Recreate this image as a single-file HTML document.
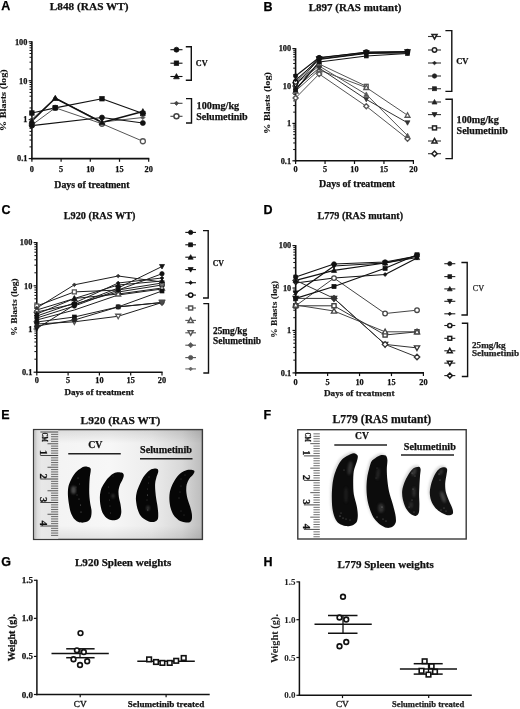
<!DOCTYPE html><html><head><meta charset="utf-8"><style>html,body{margin:0;padding:0;background:#fff;}svg{display:block;will-change:transform;}</style></head><body><svg width="520" height="709" viewBox="0 0 520 709"><rect width="520" height="709" fill="#fff"/><line x1="29.50" y1="146.88" x2="31.90" y2="146.88" stroke="#111" stroke-width="1.0" stroke-linecap="butt"/>
<line x1="29.50" y1="140.02" x2="31.90" y2="140.02" stroke="#111" stroke-width="1.0" stroke-linecap="butt"/>
<line x1="29.50" y1="135.16" x2="31.90" y2="135.16" stroke="#111" stroke-width="1.0" stroke-linecap="butt"/>
<line x1="29.50" y1="131.39" x2="31.90" y2="131.39" stroke="#111" stroke-width="1.0" stroke-linecap="butt"/>
<line x1="29.50" y1="128.30" x2="31.90" y2="128.30" stroke="#111" stroke-width="1.0" stroke-linecap="butt"/>
<line x1="29.50" y1="125.70" x2="31.90" y2="125.70" stroke="#111" stroke-width="1.0" stroke-linecap="butt"/>
<line x1="29.50" y1="123.44" x2="31.90" y2="123.44" stroke="#111" stroke-width="1.0" stroke-linecap="butt"/>
<line x1="29.50" y1="121.45" x2="31.90" y2="121.45" stroke="#111" stroke-width="1.0" stroke-linecap="butt"/>
<line x1="29.50" y1="107.95" x2="31.90" y2="107.95" stroke="#111" stroke-width="1.0" stroke-linecap="butt"/>
<line x1="29.50" y1="101.09" x2="31.90" y2="101.09" stroke="#111" stroke-width="1.0" stroke-linecap="butt"/>
<line x1="29.50" y1="96.23" x2="31.90" y2="96.23" stroke="#111" stroke-width="1.0" stroke-linecap="butt"/>
<line x1="29.50" y1="92.45" x2="31.90" y2="92.45" stroke="#111" stroke-width="1.0" stroke-linecap="butt"/>
<line x1="29.50" y1="89.37" x2="31.90" y2="89.37" stroke="#111" stroke-width="1.0" stroke-linecap="butt"/>
<line x1="29.50" y1="86.76" x2="31.90" y2="86.76" stroke="#111" stroke-width="1.0" stroke-linecap="butt"/>
<line x1="29.50" y1="84.51" x2="31.90" y2="84.51" stroke="#111" stroke-width="1.0" stroke-linecap="butt"/>
<line x1="29.50" y1="82.51" x2="31.90" y2="82.51" stroke="#111" stroke-width="1.0" stroke-linecap="butt"/>
<line x1="29.50" y1="69.01" x2="31.90" y2="69.01" stroke="#111" stroke-width="1.0" stroke-linecap="butt"/>
<line x1="29.50" y1="62.16" x2="31.90" y2="62.16" stroke="#111" stroke-width="1.0" stroke-linecap="butt"/>
<line x1="29.50" y1="57.29" x2="31.90" y2="57.29" stroke="#111" stroke-width="1.0" stroke-linecap="butt"/>
<line x1="29.50" y1="53.52" x2="31.90" y2="53.52" stroke="#111" stroke-width="1.0" stroke-linecap="butt"/>
<line x1="29.50" y1="50.44" x2="31.90" y2="50.44" stroke="#111" stroke-width="1.0" stroke-linecap="butt"/>
<line x1="29.50" y1="47.83" x2="31.90" y2="47.83" stroke="#111" stroke-width="1.0" stroke-linecap="butt"/>
<line x1="29.50" y1="45.57" x2="31.90" y2="45.57" stroke="#111" stroke-width="1.0" stroke-linecap="butt"/>
<line x1="29.50" y1="43.58" x2="31.90" y2="43.58" stroke="#111" stroke-width="1.0" stroke-linecap="butt"/>
<line x1="28.70" y1="41.80" x2="31.90" y2="41.80" stroke="#111" stroke-width="1.2" stroke-linecap="butt"/>
<line x1="28.70" y1="80.73" x2="31.90" y2="80.73" stroke="#111" stroke-width="1.2" stroke-linecap="butt"/>
<line x1="28.70" y1="119.67" x2="31.90" y2="119.67" stroke="#111" stroke-width="1.2" stroke-linecap="butt"/>
<line x1="28.70" y1="158.60" x2="31.90" y2="158.60" stroke="#111" stroke-width="1.2" stroke-linecap="butt"/>
<line x1="31.90" y1="41.30" x2="31.90" y2="159.30" stroke="#111" stroke-width="1.6" stroke-linecap="butt"/>
<line x1="31.10" y1="158.60" x2="149.30" y2="158.60" stroke="#111" stroke-width="1.6" stroke-linecap="butt"/>
<line x1="31.90" y1="158.60" x2="31.90" y2="161.80" stroke="#111" stroke-width="1.2" stroke-linecap="butt"/>
<line x1="61.10" y1="158.60" x2="61.10" y2="161.80" stroke="#111" stroke-width="1.2" stroke-linecap="butt"/>
<line x1="90.30" y1="158.60" x2="90.30" y2="161.80" stroke="#111" stroke-width="1.2" stroke-linecap="butt"/>
<line x1="119.50" y1="158.60" x2="119.50" y2="161.80" stroke="#111" stroke-width="1.2" stroke-linecap="butt"/>
<line x1="148.70" y1="158.60" x2="148.70" y2="161.80" stroke="#111" stroke-width="1.2" stroke-linecap="butt"/>
<text x="27.40" y="44.62" font-family="&quot;Liberation Serif&quot;, serif" font-size="8.30" font-weight="bold" stroke="#111" stroke-width="0.25" text-anchor="end" fill="#111">100</text>
<text x="27.40" y="83.56" font-family="&quot;Liberation Serif&quot;, serif" font-size="8.30" font-weight="bold" stroke="#111" stroke-width="0.25" text-anchor="end" fill="#111">10</text>
<text x="27.40" y="122.49" font-family="&quot;Liberation Serif&quot;, serif" font-size="8.30" font-weight="bold" stroke="#111" stroke-width="0.25" text-anchor="end" fill="#111">1</text>
<text x="27.40" y="161.42" font-family="&quot;Liberation Serif&quot;, serif" font-size="8.30" font-weight="bold" stroke="#111" stroke-width="0.25" text-anchor="end" fill="#111">0.1</text>
<text x="31.90" y="171.60" font-family="&quot;Liberation Serif&quot;, serif" font-size="8.30" font-weight="bold" stroke="#111" stroke-width="0.25" text-anchor="middle" fill="#111">0</text>
<text x="61.10" y="171.60" font-family="&quot;Liberation Serif&quot;, serif" font-size="8.30" font-weight="bold" stroke="#111" stroke-width="0.25" text-anchor="middle" fill="#111">5</text>
<text x="90.30" y="171.60" font-family="&quot;Liberation Serif&quot;, serif" font-size="8.30" font-weight="bold" stroke="#111" stroke-width="0.25" text-anchor="middle" fill="#111">10</text>
<text x="119.50" y="171.60" font-family="&quot;Liberation Serif&quot;, serif" font-size="8.30" font-weight="bold" stroke="#111" stroke-width="0.25" text-anchor="middle" fill="#111">15</text>
<text x="148.70" y="171.60" font-family="&quot;Liberation Serif&quot;, serif" font-size="8.30" font-weight="bold" stroke="#111" stroke-width="0.25" text-anchor="middle" fill="#111">20</text>
<text x="54.30" y="188.40" font-family="&quot;Liberation Serif&quot;, serif" font-size="9.80" font-weight="bold" stroke="#111" stroke-width="0.25" text-anchor="start" fill="#111" textLength="75.20" lengthAdjust="spacingAndGlyphs">Days of treatment</text>
<text x="6.30" y="100.20" font-family="&quot;Liberation Serif&quot;, serif" font-size="9.00" font-weight="bold" stroke="#111" stroke-width="0.1" text-anchor="middle" fill="#111" textLength="62.00" lengthAdjust="spacingAndGlyphs" transform="rotate(-90 6.30 100.20)">% Blasts (log)</text>
<text x="49.80" y="10.00" font-family="&quot;Liberation Serif&quot;, serif" font-size="11.30" font-weight="bold" stroke="#111" stroke-width="0.25" text-anchor="start" fill="#111" textLength="78.80" lengthAdjust="spacingAndGlyphs">L848 (RAS WT)</text>
<polyline points="31.90,119.30 55.26,98.20 101.98,122.00 142.86,117.50" fill="none" stroke="#555" stroke-width="1.0" stroke-linejoin="round"/>
<polyline points="31.90,125.00 55.26,107.80 101.98,123.75 142.86,141.25" fill="none" stroke="#555" stroke-width="1.0" stroke-linejoin="round"/>
<polyline points="31.90,125.60 101.98,117.50 142.86,123.00" fill="none" stroke="#111" stroke-width="1.1" stroke-linejoin="round"/>
<polyline points="31.90,113.00 55.26,107.80 101.98,98.75 142.86,113.50" fill="none" stroke="#111" stroke-width="1.2" stroke-linejoin="round"/>
<polyline points="31.90,121.00 55.26,98.20 101.98,122.50 142.86,111.50" fill="none" stroke="#111" stroke-width="1.6" stroke-linejoin="round"/>
<polygon points="31.90,117.17 34.02,119.30 31.90,121.42 29.77,119.30" fill="#555" stroke="#555" stroke-width="0.7"/>
<polygon points="55.26,96.08 57.38,98.20 55.26,100.33 53.13,98.20" fill="#555" stroke="#555" stroke-width="0.7"/>
<polygon points="101.98,119.88 104.10,122.00 101.98,124.12 99.85,122.00" fill="#555" stroke="#555" stroke-width="0.7"/>
<polygon points="142.86,115.38 144.98,117.50 142.86,119.62 140.73,117.50" fill="#555" stroke="#555" stroke-width="0.7"/>
<circle cx="31.90" cy="125.00" r="2.50" fill="#fff" stroke="#555" stroke-width="1.3"/>
<circle cx="55.26" cy="107.80" r="2.50" fill="#fff" stroke="#555" stroke-width="1.3"/>
<circle cx="101.98" cy="123.75" r="2.50" fill="#fff" stroke="#555" stroke-width="1.3"/>
<circle cx="142.86" cy="141.25" r="2.50" fill="#fff" stroke="#555" stroke-width="1.3"/>
<circle cx="31.90" cy="125.60" r="2.50" fill="#111" stroke="#111" stroke-width="0.7"/>
<circle cx="101.98" cy="117.50" r="2.50" fill="#111" stroke="#111" stroke-width="0.7"/>
<circle cx="142.86" cy="123.00" r="2.50" fill="#111" stroke="#111" stroke-width="0.7"/>
<rect x="29.65" y="110.75" width="4.50" height="4.50" fill="#111" stroke="#111" stroke-width="0.7"/>
<rect x="53.01" y="105.55" width="4.50" height="4.50" fill="#111" stroke="#111" stroke-width="0.7"/>
<rect x="99.73" y="96.50" width="4.50" height="4.50" fill="#111" stroke="#111" stroke-width="0.7"/>
<rect x="140.61" y="111.25" width="4.50" height="4.50" fill="#111" stroke="#111" stroke-width="0.7"/>
<polygon points="31.90,118.12 34.77,123.30 29.02,123.30" fill="#111" stroke="#111" stroke-width="0.7"/>
<polygon points="55.26,95.33 58.13,100.50 52.38,100.50" fill="#111" stroke="#111" stroke-width="0.7"/>
<polygon points="101.98,119.62 104.85,124.80 99.10,124.80" fill="#111" stroke="#111" stroke-width="0.7"/>
<polygon points="142.86,108.62 145.73,113.80 139.98,113.80" fill="#111" stroke="#111" stroke-width="0.7"/>
<line x1="170.40" y1="49.70" x2="182.50" y2="49.70" stroke="#111" stroke-width="1.1" stroke-linecap="butt"/>
<circle cx="176.45" cy="49.70" r="2.50" fill="#111" stroke="#111" stroke-width="0.7"/>
<line x1="170.40" y1="63.20" x2="182.50" y2="63.20" stroke="#111" stroke-width="1.1" stroke-linecap="butt"/>
<rect x="174.20" y="60.95" width="4.50" height="4.50" fill="#111" stroke="#111" stroke-width="0.7"/>
<line x1="170.40" y1="76.50" x2="182.50" y2="76.50" stroke="#111" stroke-width="1.1" stroke-linecap="butt"/>
<polygon points="176.45,73.62 179.32,78.80 173.57,78.80" fill="#111" stroke="#111" stroke-width="0.7"/>
<line x1="170.40" y1="103.30" x2="182.50" y2="103.30" stroke="#444" stroke-width="1.1" stroke-linecap="butt"/>
<polygon points="176.45,101.17 178.57,103.30 176.45,105.42 174.32,103.30" fill="#444" stroke="#444" stroke-width="0.7"/>
<line x1="170.40" y1="116.30" x2="182.50" y2="116.30" stroke="#444" stroke-width="1.1" stroke-linecap="butt"/>
<circle cx="176.45" cy="116.30" r="2.50" fill="#fff" stroke="#444" stroke-width="1.5"/>
<polyline points="185.80,46.80 191.30,46.80 191.30,80.30 185.80,80.30" fill="none" stroke="#111" stroke-width="1.4"/>
<polyline points="186.00,98.60 191.50,98.60 191.50,123.00 186.00,123.00" fill="none" stroke="#111" stroke-width="1.4"/>
<text x="195.80" y="65.80" font-family="&quot;Liberation Serif&quot;, serif" font-size="8.80" font-weight="bold" stroke="#111" stroke-width="0.25" text-anchor="start" fill="#111" textLength="11.80" lengthAdjust="spacingAndGlyphs">CV</text>
<text x="196.60" y="108.80" font-family="&quot;Liberation Serif&quot;, serif" font-size="10.20" font-weight="bold" stroke="#111" stroke-width="0.25" text-anchor="start" fill="#111" textLength="42.60" lengthAdjust="spacingAndGlyphs">100mg/kg</text>
<text x="196.20" y="119.60" font-family="&quot;Liberation Serif&quot;, serif" font-size="10.10" font-weight="bold" stroke="#111" stroke-width="0.25" text-anchor="start" fill="#111" textLength="51.50" lengthAdjust="spacingAndGlyphs">Selumetinib</text>
<text x="1.20" y="10.20" font-family="&quot;Liberation Sans&quot;, sans-serif" font-size="12.50" font-weight="bold" stroke="#000" stroke-width="0.25" text-anchor="start" fill="#000">A</text>
<line x1="293.20" y1="149.54" x2="295.60" y2="149.54" stroke="#111" stroke-width="1.0" stroke-linecap="butt"/>
<line x1="293.20" y1="142.96" x2="295.60" y2="142.96" stroke="#111" stroke-width="1.0" stroke-linecap="butt"/>
<line x1="293.20" y1="138.28" x2="295.60" y2="138.28" stroke="#111" stroke-width="1.0" stroke-linecap="butt"/>
<line x1="293.20" y1="134.66" x2="295.60" y2="134.66" stroke="#111" stroke-width="1.0" stroke-linecap="butt"/>
<line x1="293.20" y1="131.70" x2="295.60" y2="131.70" stroke="#111" stroke-width="1.0" stroke-linecap="butt"/>
<line x1="293.20" y1="129.19" x2="295.60" y2="129.19" stroke="#111" stroke-width="1.0" stroke-linecap="butt"/>
<line x1="293.20" y1="127.02" x2="295.60" y2="127.02" stroke="#111" stroke-width="1.0" stroke-linecap="butt"/>
<line x1="293.20" y1="125.11" x2="295.60" y2="125.11" stroke="#111" stroke-width="1.0" stroke-linecap="butt"/>
<line x1="293.20" y1="112.14" x2="295.60" y2="112.14" stroke="#111" stroke-width="1.0" stroke-linecap="butt"/>
<line x1="293.20" y1="105.56" x2="295.60" y2="105.56" stroke="#111" stroke-width="1.0" stroke-linecap="butt"/>
<line x1="293.20" y1="100.88" x2="295.60" y2="100.88" stroke="#111" stroke-width="1.0" stroke-linecap="butt"/>
<line x1="293.20" y1="97.26" x2="295.60" y2="97.26" stroke="#111" stroke-width="1.0" stroke-linecap="butt"/>
<line x1="293.20" y1="94.30" x2="295.60" y2="94.30" stroke="#111" stroke-width="1.0" stroke-linecap="butt"/>
<line x1="293.20" y1="91.79" x2="295.60" y2="91.79" stroke="#111" stroke-width="1.0" stroke-linecap="butt"/>
<line x1="293.20" y1="89.62" x2="295.60" y2="89.62" stroke="#111" stroke-width="1.0" stroke-linecap="butt"/>
<line x1="293.20" y1="87.71" x2="295.60" y2="87.71" stroke="#111" stroke-width="1.0" stroke-linecap="butt"/>
<line x1="293.20" y1="74.74" x2="295.60" y2="74.74" stroke="#111" stroke-width="1.0" stroke-linecap="butt"/>
<line x1="293.20" y1="68.16" x2="295.60" y2="68.16" stroke="#111" stroke-width="1.0" stroke-linecap="butt"/>
<line x1="293.20" y1="63.48" x2="295.60" y2="63.48" stroke="#111" stroke-width="1.0" stroke-linecap="butt"/>
<line x1="293.20" y1="59.86" x2="295.60" y2="59.86" stroke="#111" stroke-width="1.0" stroke-linecap="butt"/>
<line x1="293.20" y1="56.90" x2="295.60" y2="56.90" stroke="#111" stroke-width="1.0" stroke-linecap="butt"/>
<line x1="293.20" y1="54.39" x2="295.60" y2="54.39" stroke="#111" stroke-width="1.0" stroke-linecap="butt"/>
<line x1="293.20" y1="52.22" x2="295.60" y2="52.22" stroke="#111" stroke-width="1.0" stroke-linecap="butt"/>
<line x1="293.20" y1="50.31" x2="295.60" y2="50.31" stroke="#111" stroke-width="1.0" stroke-linecap="butt"/>
<line x1="292.40" y1="48.60" x2="295.60" y2="48.60" stroke="#111" stroke-width="1.2" stroke-linecap="butt"/>
<line x1="292.40" y1="86.00" x2="295.60" y2="86.00" stroke="#111" stroke-width="1.2" stroke-linecap="butt"/>
<line x1="292.40" y1="123.40" x2="295.60" y2="123.40" stroke="#111" stroke-width="1.2" stroke-linecap="butt"/>
<line x1="292.40" y1="160.80" x2="295.60" y2="160.80" stroke="#111" stroke-width="1.2" stroke-linecap="butt"/>
<line x1="295.60" y1="48.10" x2="295.60" y2="161.50" stroke="#111" stroke-width="1.6" stroke-linecap="butt"/>
<line x1="294.80" y1="160.80" x2="414.00" y2="160.80" stroke="#111" stroke-width="1.6" stroke-linecap="butt"/>
<line x1="295.60" y1="160.80" x2="295.60" y2="164.00" stroke="#111" stroke-width="1.2" stroke-linecap="butt"/>
<line x1="325.05" y1="160.80" x2="325.05" y2="164.00" stroke="#111" stroke-width="1.2" stroke-linecap="butt"/>
<line x1="354.50" y1="160.80" x2="354.50" y2="164.00" stroke="#111" stroke-width="1.2" stroke-linecap="butt"/>
<line x1="383.95" y1="160.80" x2="383.95" y2="164.00" stroke="#111" stroke-width="1.2" stroke-linecap="butt"/>
<line x1="413.40" y1="160.80" x2="413.40" y2="164.00" stroke="#111" stroke-width="1.2" stroke-linecap="butt"/>
<text x="291.10" y="51.42" font-family="&quot;Liberation Serif&quot;, serif" font-size="8.30" font-weight="bold" stroke="#111" stroke-width="0.25" text-anchor="end" fill="#111">100</text>
<text x="291.10" y="88.82" font-family="&quot;Liberation Serif&quot;, serif" font-size="8.30" font-weight="bold" stroke="#111" stroke-width="0.25" text-anchor="end" fill="#111">10</text>
<text x="291.10" y="126.22" font-family="&quot;Liberation Serif&quot;, serif" font-size="8.30" font-weight="bold" stroke="#111" stroke-width="0.25" text-anchor="end" fill="#111">1</text>
<text x="291.10" y="163.62" font-family="&quot;Liberation Serif&quot;, serif" font-size="8.30" font-weight="bold" stroke="#111" stroke-width="0.25" text-anchor="end" fill="#111">0.1</text>
<text x="295.60" y="172.30" font-family="&quot;Liberation Serif&quot;, serif" font-size="8.30" font-weight="bold" stroke="#111" stroke-width="0.25" text-anchor="middle" fill="#111">0</text>
<text x="325.05" y="172.30" font-family="&quot;Liberation Serif&quot;, serif" font-size="8.30" font-weight="bold" stroke="#111" stroke-width="0.25" text-anchor="middle" fill="#111">5</text>
<text x="354.50" y="172.30" font-family="&quot;Liberation Serif&quot;, serif" font-size="8.30" font-weight="bold" stroke="#111" stroke-width="0.25" text-anchor="middle" fill="#111">10</text>
<text x="383.95" y="172.30" font-family="&quot;Liberation Serif&quot;, serif" font-size="8.30" font-weight="bold" stroke="#111" stroke-width="0.25" text-anchor="middle" fill="#111">15</text>
<text x="413.40" y="172.30" font-family="&quot;Liberation Serif&quot;, serif" font-size="8.30" font-weight="bold" stroke="#111" stroke-width="0.25" text-anchor="middle" fill="#111">20</text>
<text x="319.00" y="186.70" font-family="&quot;Liberation Serif&quot;, serif" font-size="9.80" font-weight="bold" stroke="#111" stroke-width="0.25" text-anchor="start" fill="#111" textLength="76.20" lengthAdjust="spacingAndGlyphs">Days of treatment</text>
<text x="269.50" y="103.00" font-family="&quot;Liberation Serif&quot;, serif" font-size="9.00" font-weight="bold" stroke="#111" stroke-width="0.1" text-anchor="middle" fill="#111" textLength="62.00" lengthAdjust="spacingAndGlyphs" transform="rotate(-90 269.50 103.00)">% Blasts (log)</text>
<text x="308.80" y="11.00" font-family="&quot;Liberation Serif&quot;, serif" font-size="11.00" font-weight="bold" stroke="#111" stroke-width="0.25" text-anchor="start" fill="#111" textLength="92.70" lengthAdjust="spacingAndGlyphs">L897 (RAS mutant)</text>
<polyline points="295.60,83.00 319.16,64.00 366.28,86.25" fill="none" stroke="#555" stroke-width="1.0" stroke-linejoin="round"/>
<polyline points="295.60,91.00 319.16,70.00 366.28,87.50 407.51,115.25" fill="none" stroke="#555" stroke-width="1.0" stroke-linejoin="round"/>
<polyline points="295.60,98.00 319.16,74.00 366.28,106.25 407.51,138.75" fill="none" stroke="#555" stroke-width="1.0" stroke-linejoin="round"/>
<polyline points="295.60,84.00 319.16,66.00 366.28,94.40 407.51,135.60" fill="none" stroke="#555" stroke-width="1.0" stroke-linejoin="round"/>
<polyline points="295.60,88.00 319.16,68.00 366.28,99.40 407.51,122.75" fill="none" stroke="#333" stroke-width="1.0" stroke-linejoin="round"/>
<polyline points="295.60,85.00 319.16,59.00 366.28,53.00 407.51,52.00" fill="none" stroke="#111" stroke-width="1.0" stroke-linejoin="round"/>
<polyline points="295.60,82.00 319.16,58.00 366.28,52.00 407.51,51.50" fill="none" stroke="#111" stroke-width="1.0" stroke-linejoin="round"/>
<polyline points="295.60,80.00 319.16,59.50 366.28,53.50 407.51,53.00" fill="none" stroke="#111" stroke-width="1.0" stroke-linejoin="round"/>
<polyline points="295.60,90.00 319.16,62.00 366.28,56.00 407.51,53.50" fill="none" stroke="#111" stroke-width="1.2" stroke-linejoin="round"/>
<polyline points="295.60,76.00 319.16,57.50 366.28,52.50 407.51,52.00" fill="none" stroke="#111" stroke-width="1.2" stroke-linejoin="round"/>
<rect x="293.67" y="81.06" width="3.87" height="3.87" fill="#fff" stroke="#555" stroke-width="1.3"/>
<rect x="317.23" y="62.06" width="3.87" height="3.87" fill="#fff" stroke="#555" stroke-width="1.3"/>
<rect x="364.35" y="84.31" width="3.87" height="3.87" fill="#fff" stroke="#555" stroke-width="1.3"/>
<polygon points="295.60,88.53 298.07,92.98 293.13,92.98" fill="#fff" stroke="#555" stroke-width="1.3"/>
<polygon points="319.16,67.53 321.63,71.98 316.69,71.98" fill="#fff" stroke="#555" stroke-width="1.3"/>
<polygon points="366.28,85.03 368.75,89.48 363.81,89.48" fill="#fff" stroke="#555" stroke-width="1.3"/>
<polygon points="407.51,112.78 409.98,117.23 405.04,117.23" fill="#fff" stroke="#555" stroke-width="1.3"/>
<polygon points="295.60,95.42 298.18,98.00 295.60,100.58 293.02,98.00" fill="#fff" stroke="#555" stroke-width="1.3"/>
<polygon points="319.16,71.42 321.74,74.00 319.16,76.58 316.58,74.00" fill="#fff" stroke="#555" stroke-width="1.3"/>
<polygon points="366.28,103.67 368.86,106.25 366.28,108.83 363.70,106.25" fill="#fff" stroke="#555" stroke-width="1.3"/>
<polygon points="407.51,136.17 410.09,138.75 407.51,141.33 404.93,138.75" fill="#fff" stroke="#555" stroke-width="1.3"/>
<polygon points="295.60,81.53 298.07,85.98 293.13,85.98" fill="#555" stroke="#555" stroke-width="0.7"/>
<polygon points="319.16,63.53 321.63,67.98 316.69,67.98" fill="#555" stroke="#555" stroke-width="0.7"/>
<polygon points="366.28,91.93 368.75,96.38 363.81,96.38" fill="#555" stroke="#555" stroke-width="0.7"/>
<polygon points="407.51,133.13 409.98,137.58 405.04,137.58" fill="#555" stroke="#555" stroke-width="0.7"/>
<polygon points="295.60,90.47 298.07,86.02 293.13,86.02" fill="#333" stroke="#333" stroke-width="0.7"/>
<polygon points="319.16,70.47 321.63,66.02 316.69,66.02" fill="#333" stroke="#333" stroke-width="0.7"/>
<polygon points="366.28,101.87 368.75,97.42 363.81,97.42" fill="#333" stroke="#333" stroke-width="0.7"/>
<polygon points="407.51,125.22 409.98,120.77 405.04,120.77" fill="#333" stroke="#333" stroke-width="0.7"/>
<polygon points="295.60,87.47 298.07,83.02 293.13,83.02" fill="#fff" stroke="#111" stroke-width="1.3"/>
<polygon points="319.16,61.47 321.63,57.02 316.69,57.02" fill="#fff" stroke="#111" stroke-width="1.3"/>
<polygon points="366.28,55.47 368.75,51.02 363.81,51.02" fill="#fff" stroke="#111" stroke-width="1.3"/>
<polygon points="407.51,54.47 409.98,50.02 405.04,50.02" fill="#fff" stroke="#111" stroke-width="1.3"/>
<circle cx="295.60" cy="82.00" r="2.15" fill="#fff" stroke="#111" stroke-width="1.3"/>
<circle cx="319.16" cy="58.00" r="2.15" fill="#fff" stroke="#111" stroke-width="1.3"/>
<circle cx="366.28" cy="52.00" r="2.15" fill="#fff" stroke="#111" stroke-width="1.3"/>
<circle cx="407.51" cy="51.50" r="2.15" fill="#fff" stroke="#111" stroke-width="1.3"/>
<polygon points="295.60,78.17 297.43,80.00 295.60,81.83 293.77,80.00" fill="#111" stroke="#111" stroke-width="0.7"/>
<polygon points="319.16,57.67 320.99,59.50 319.16,61.33 317.33,59.50" fill="#111" stroke="#111" stroke-width="0.7"/>
<polygon points="366.28,51.67 368.11,53.50 366.28,55.33 364.45,53.50" fill="#111" stroke="#111" stroke-width="0.7"/>
<polygon points="407.51,51.17 409.34,53.00 407.51,54.83 405.68,53.00" fill="#111" stroke="#111" stroke-width="0.7"/>
<rect x="293.67" y="88.06" width="3.87" height="3.87" fill="#111" stroke="#111" stroke-width="0.7"/>
<rect x="317.23" y="60.06" width="3.87" height="3.87" fill="#111" stroke="#111" stroke-width="0.7"/>
<rect x="364.35" y="54.06" width="3.87" height="3.87" fill="#111" stroke="#111" stroke-width="0.7"/>
<rect x="405.57" y="51.56" width="3.87" height="3.87" fill="#111" stroke="#111" stroke-width="0.7"/>
<circle cx="295.60" cy="76.00" r="2.15" fill="#111" stroke="#111" stroke-width="0.7"/>
<circle cx="319.16" cy="57.50" r="2.15" fill="#111" stroke="#111" stroke-width="0.7"/>
<circle cx="366.28" cy="52.50" r="2.15" fill="#111" stroke="#111" stroke-width="0.7"/>
<circle cx="407.51" cy="52.00" r="2.15" fill="#111" stroke="#111" stroke-width="0.7"/>
<line x1="428.00" y1="36.50" x2="441.00" y2="36.50" stroke="#333" stroke-width="1.1" stroke-linecap="butt"/>
<polygon points="434.50,39.03 437.03,34.48 431.97,34.48" fill="#fff" stroke="#222" stroke-width="1.5"/>
<line x1="428.00" y1="50.00" x2="441.00" y2="50.00" stroke="#333" stroke-width="1.1" stroke-linecap="butt"/>
<circle cx="434.50" cy="50.00" r="2.20" fill="#fff" stroke="#222" stroke-width="1.5"/>
<line x1="428.00" y1="63.00" x2="441.00" y2="63.00" stroke="#333" stroke-width="1.1" stroke-linecap="butt"/>
<polygon points="434.50,61.13 436.37,63.00 434.50,64.87 432.63,63.00" fill="#222" stroke="#222" stroke-width="0.7"/>
<line x1="428.00" y1="76.00" x2="441.00" y2="76.00" stroke="#333" stroke-width="1.1" stroke-linecap="butt"/>
<circle cx="434.50" cy="76.00" r="2.20" fill="#222" stroke="#222" stroke-width="0.7"/>
<line x1="428.00" y1="88.75" x2="441.00" y2="88.75" stroke="#333" stroke-width="1.1" stroke-linecap="butt"/>
<rect x="432.52" y="86.77" width="3.96" height="3.96" fill="#222" stroke="#222" stroke-width="0.7"/>
<line x1="428.00" y1="102.00" x2="441.00" y2="102.00" stroke="#333" stroke-width="1.1" stroke-linecap="butt"/>
<polygon points="434.50,99.47 437.03,104.02 431.97,104.02" fill="#222" stroke="#222" stroke-width="0.7"/>
<line x1="428.00" y1="114.60" x2="441.00" y2="114.60" stroke="#333" stroke-width="1.1" stroke-linecap="butt"/>
<polygon points="434.50,117.13 437.03,112.58 431.97,112.58" fill="#222" stroke="#222" stroke-width="0.7"/>
<line x1="428.00" y1="127.90" x2="441.00" y2="127.90" stroke="#333" stroke-width="1.1" stroke-linecap="butt"/>
<rect x="432.52" y="125.92" width="3.96" height="3.96" fill="#fff" stroke="#222" stroke-width="1.5"/>
<line x1="428.00" y1="141.00" x2="441.00" y2="141.00" stroke="#333" stroke-width="1.1" stroke-linecap="butt"/>
<polygon points="434.50,138.47 437.03,143.02 431.97,143.02" fill="#fff" stroke="#222" stroke-width="1.5"/>
<line x1="428.00" y1="153.70" x2="441.00" y2="153.70" stroke="#333" stroke-width="1.1" stroke-linecap="butt"/>
<polygon points="434.50,151.06 437.14,153.70 434.50,156.34 431.86,153.70" fill="#fff" stroke="#222" stroke-width="1.5"/>
<polyline points="445.40,30.60 451.80,30.60 451.80,91.40 445.40,91.40" fill="none" stroke="#111" stroke-width="1.4"/>
<polyline points="445.40,99.30 452.20,99.30 452.20,158.60 445.40,158.60" fill="none" stroke="#111" stroke-width="1.4"/>
<text x="456.20" y="64.20" font-family="&quot;Liberation Serif&quot;, serif" font-size="8.80" font-weight="bold" stroke="#111" stroke-width="0.25" text-anchor="start" fill="#111" textLength="12.30" lengthAdjust="spacingAndGlyphs">CV</text>
<text x="456.60" y="123.10" font-family="&quot;Liberation Serif&quot;, serif" font-size="10.10" font-weight="bold" stroke="#111" stroke-width="0.25" text-anchor="start" fill="#111" textLength="42.20" lengthAdjust="spacingAndGlyphs">100mg/kg</text>
<text x="456.60" y="133.80" font-family="&quot;Liberation Serif&quot;, serif" font-size="10.00" font-weight="bold" stroke="#111" stroke-width="0.25" text-anchor="start" fill="#111" textLength="51.10" lengthAdjust="spacingAndGlyphs">Selumetinib</text>
<text x="263.50" y="10.50" font-family="&quot;Liberation Sans&quot;, sans-serif" font-size="12.50" font-weight="bold" stroke="#000" stroke-width="0.25" text-anchor="start" fill="#000">B</text>
<line x1="34.40" y1="359.20" x2="36.80" y2="359.20" stroke="#111" stroke-width="1.0" stroke-linecap="butt"/>
<line x1="34.40" y1="351.59" x2="36.80" y2="351.59" stroke="#111" stroke-width="1.0" stroke-linecap="butt"/>
<line x1="34.40" y1="346.19" x2="36.80" y2="346.19" stroke="#111" stroke-width="1.0" stroke-linecap="butt"/>
<line x1="34.40" y1="342.00" x2="36.80" y2="342.00" stroke="#111" stroke-width="1.0" stroke-linecap="butt"/>
<line x1="34.40" y1="338.58" x2="36.80" y2="338.58" stroke="#111" stroke-width="1.0" stroke-linecap="butt"/>
<line x1="34.40" y1="335.69" x2="36.80" y2="335.69" stroke="#111" stroke-width="1.0" stroke-linecap="butt"/>
<line x1="34.40" y1="333.19" x2="36.80" y2="333.19" stroke="#111" stroke-width="1.0" stroke-linecap="butt"/>
<line x1="34.40" y1="330.98" x2="36.80" y2="330.98" stroke="#111" stroke-width="1.0" stroke-linecap="butt"/>
<line x1="34.40" y1="316.00" x2="36.80" y2="316.00" stroke="#111" stroke-width="1.0" stroke-linecap="butt"/>
<line x1="34.40" y1="308.39" x2="36.80" y2="308.39" stroke="#111" stroke-width="1.0" stroke-linecap="butt"/>
<line x1="34.40" y1="302.99" x2="36.80" y2="302.99" stroke="#111" stroke-width="1.0" stroke-linecap="butt"/>
<line x1="34.40" y1="298.80" x2="36.80" y2="298.80" stroke="#111" stroke-width="1.0" stroke-linecap="butt"/>
<line x1="34.40" y1="295.38" x2="36.80" y2="295.38" stroke="#111" stroke-width="1.0" stroke-linecap="butt"/>
<line x1="34.40" y1="292.49" x2="36.80" y2="292.49" stroke="#111" stroke-width="1.0" stroke-linecap="butt"/>
<line x1="34.40" y1="289.99" x2="36.80" y2="289.99" stroke="#111" stroke-width="1.0" stroke-linecap="butt"/>
<line x1="34.40" y1="287.78" x2="36.80" y2="287.78" stroke="#111" stroke-width="1.0" stroke-linecap="butt"/>
<line x1="34.40" y1="272.80" x2="36.80" y2="272.80" stroke="#111" stroke-width="1.0" stroke-linecap="butt"/>
<line x1="34.40" y1="265.19" x2="36.80" y2="265.19" stroke="#111" stroke-width="1.0" stroke-linecap="butt"/>
<line x1="34.40" y1="259.79" x2="36.80" y2="259.79" stroke="#111" stroke-width="1.0" stroke-linecap="butt"/>
<line x1="34.40" y1="255.60" x2="36.80" y2="255.60" stroke="#111" stroke-width="1.0" stroke-linecap="butt"/>
<line x1="34.40" y1="252.18" x2="36.80" y2="252.18" stroke="#111" stroke-width="1.0" stroke-linecap="butt"/>
<line x1="34.40" y1="249.29" x2="36.80" y2="249.29" stroke="#111" stroke-width="1.0" stroke-linecap="butt"/>
<line x1="34.40" y1="246.79" x2="36.80" y2="246.79" stroke="#111" stroke-width="1.0" stroke-linecap="butt"/>
<line x1="34.40" y1="244.58" x2="36.80" y2="244.58" stroke="#111" stroke-width="1.0" stroke-linecap="butt"/>
<line x1="33.60" y1="242.60" x2="36.80" y2="242.60" stroke="#111" stroke-width="1.2" stroke-linecap="butt"/>
<line x1="33.60" y1="285.80" x2="36.80" y2="285.80" stroke="#111" stroke-width="1.2" stroke-linecap="butt"/>
<line x1="33.60" y1="329.00" x2="36.80" y2="329.00" stroke="#111" stroke-width="1.2" stroke-linecap="butt"/>
<line x1="33.60" y1="372.20" x2="36.80" y2="372.20" stroke="#111" stroke-width="1.2" stroke-linecap="butt"/>
<line x1="36.80" y1="242.10" x2="36.80" y2="372.90" stroke="#111" stroke-width="1.6" stroke-linecap="butt"/>
<line x1="36.00" y1="372.20" x2="162.60" y2="372.20" stroke="#111" stroke-width="1.6" stroke-linecap="butt"/>
<line x1="36.80" y1="372.20" x2="36.80" y2="375.40" stroke="#111" stroke-width="1.2" stroke-linecap="butt"/>
<line x1="68.10" y1="372.20" x2="68.10" y2="375.40" stroke="#111" stroke-width="1.2" stroke-linecap="butt"/>
<line x1="99.40" y1="372.20" x2="99.40" y2="375.40" stroke="#111" stroke-width="1.2" stroke-linecap="butt"/>
<line x1="130.70" y1="372.20" x2="130.70" y2="375.40" stroke="#111" stroke-width="1.2" stroke-linecap="butt"/>
<line x1="162.00" y1="372.20" x2="162.00" y2="375.40" stroke="#111" stroke-width="1.2" stroke-linecap="butt"/>
<text x="32.30" y="245.42" font-family="&quot;Liberation Serif&quot;, serif" font-size="8.30" font-weight="bold" stroke="#111" stroke-width="0.25" text-anchor="end" fill="#111">100</text>
<text x="32.30" y="288.62" font-family="&quot;Liberation Serif&quot;, serif" font-size="8.30" font-weight="bold" stroke="#111" stroke-width="0.25" text-anchor="end" fill="#111">10</text>
<text x="32.30" y="331.82" font-family="&quot;Liberation Serif&quot;, serif" font-size="8.30" font-weight="bold" stroke="#111" stroke-width="0.25" text-anchor="end" fill="#111">1</text>
<text x="32.30" y="375.02" font-family="&quot;Liberation Serif&quot;, serif" font-size="8.30" font-weight="bold" stroke="#111" stroke-width="0.25" text-anchor="end" fill="#111">0.1</text>
<text x="36.80" y="383.00" font-family="&quot;Liberation Serif&quot;, serif" font-size="8.30" font-weight="bold" stroke="#111" stroke-width="0.25" text-anchor="middle" fill="#111">0</text>
<text x="68.10" y="383.00" font-family="&quot;Liberation Serif&quot;, serif" font-size="8.30" font-weight="bold" stroke="#111" stroke-width="0.25" text-anchor="middle" fill="#111">5</text>
<text x="99.40" y="383.00" font-family="&quot;Liberation Serif&quot;, serif" font-size="8.30" font-weight="bold" stroke="#111" stroke-width="0.25" text-anchor="middle" fill="#111">10</text>
<text x="130.70" y="383.00" font-family="&quot;Liberation Serif&quot;, serif" font-size="8.30" font-weight="bold" stroke="#111" stroke-width="0.25" text-anchor="middle" fill="#111">15</text>
<text x="162.00" y="383.00" font-family="&quot;Liberation Serif&quot;, serif" font-size="8.30" font-weight="bold" stroke="#111" stroke-width="0.25" text-anchor="middle" fill="#111">20</text>
<text x="64.50" y="395.00" font-family="&quot;Liberation Serif&quot;, serif" font-size="9.00" font-weight="bold" stroke="#111" stroke-width="0.25" text-anchor="start" fill="#111" textLength="69.20" lengthAdjust="spacingAndGlyphs">Days of treatment</text>
<text x="17.00" y="307.00" font-family="&quot;Liberation Serif&quot;, serif" font-size="8.80" font-weight="bold" stroke="#111" stroke-width="0.1" text-anchor="middle" fill="#111" textLength="57.30" lengthAdjust="spacingAndGlyphs" transform="rotate(-90 17.00 307.00)">% Blasts (log)</text>
<text x="63.65" y="218.80" font-family="&quot;Liberation Serif&quot;, serif" font-size="10.30" font-weight="bold" stroke="#111" stroke-width="0.25" text-anchor="start" fill="#111" textLength="71.85" lengthAdjust="spacingAndGlyphs">L920 (RAS WT)</text>
<polyline points="36.80,312.00 74.36,304.00 118.18,292.00 162.00,285.00" fill="none" stroke="#1e1e1e" stroke-width="1.0" stroke-linejoin="round"/>
<polyline points="36.80,306.00 74.36,291.90 118.18,290.00 162.00,283.00" fill="none" stroke="#1e1e1e" stroke-width="1.0" stroke-linejoin="round"/>
<polyline points="36.80,310.00 74.36,298.50 118.18,294.00 162.00,288.00" fill="none" stroke="#1e1e1e" stroke-width="1.0" stroke-linejoin="round"/>
<polyline points="36.80,324.00 74.36,321.80 118.18,316.25 162.00,302.50" fill="none" stroke="#1e1e1e" stroke-width="1.0" stroke-linejoin="round"/>
<polyline points="36.80,308.00 74.36,284.80 118.18,276.00 162.00,282.00" fill="none" stroke="#1e1e1e" stroke-width="1.0" stroke-linejoin="round"/>
<polyline points="36.80,320.00 74.36,310.00 118.18,295.00 162.00,289.00" fill="none" stroke="#1e1e1e" stroke-width="1.0" stroke-linejoin="round"/>
<polyline points="36.80,318.00 74.36,306.00 118.18,290.00 162.00,273.75" fill="none" stroke="#1e1e1e" stroke-width="1.0" stroke-linejoin="round"/>
<polyline points="36.80,322.00 74.36,317.00 118.18,306.90 162.00,291.00" fill="none" stroke="#1e1e1e" stroke-width="1.0" stroke-linejoin="round"/>
<polyline points="36.80,314.00 74.36,298.50 118.18,285.00 162.00,281.00" fill="none" stroke="#1e1e1e" stroke-width="1.0" stroke-linejoin="round"/>
<polyline points="36.80,328.50 74.36,305.00 118.18,288.00 162.00,266.50" fill="none" stroke="#1e1e1e" stroke-width="1.0" stroke-linejoin="round"/>
<polyline points="36.80,316.00 74.36,303.00 118.18,283.00 162.00,278.00" fill="none" stroke="#1e1e1e" stroke-width="1.0" stroke-linejoin="round"/>
<polyline points="36.80,326.00 74.36,320.00 118.18,306.90 162.00,302.50" fill="none" stroke="#1e1e1e" stroke-width="1.0" stroke-linejoin="round"/>
<polyline points="118.18,306.90 162.00,302.50" fill="none" stroke="#1e1e1e" stroke-width="1.0" stroke-linejoin="round"/>
<circle cx="36.80" cy="312.00" r="2.20" fill="#fff" stroke="#111" stroke-width="1.3"/>
<circle cx="74.36" cy="304.00" r="2.20" fill="#fff" stroke="#111" stroke-width="1.3"/>
<circle cx="118.18" cy="292.00" r="2.20" fill="#fff" stroke="#111" stroke-width="1.3"/>
<circle cx="162.00" cy="285.00" r="2.20" fill="#fff" stroke="#111" stroke-width="1.3"/>
<rect x="34.82" y="304.02" width="3.96" height="3.96" fill="#fff" stroke="#555" stroke-width="1.3"/>
<rect x="72.38" y="289.92" width="3.96" height="3.96" fill="#fff" stroke="#555" stroke-width="1.3"/>
<rect x="116.20" y="288.02" width="3.96" height="3.96" fill="#fff" stroke="#555" stroke-width="1.3"/>
<rect x="160.02" y="281.02" width="3.96" height="3.96" fill="#fff" stroke="#555" stroke-width="1.3"/>
<polygon points="36.80,307.47 39.33,312.02 34.27,312.02" fill="#fff" stroke="#555" stroke-width="1.3"/>
<polygon points="74.36,295.97 76.89,300.52 71.83,300.52" fill="#fff" stroke="#555" stroke-width="1.3"/>
<polygon points="118.18,291.47 120.71,296.02 115.65,296.02" fill="#fff" stroke="#555" stroke-width="1.3"/>
<polygon points="162.00,285.47 164.53,290.02 159.47,290.02" fill="#fff" stroke="#555" stroke-width="1.3"/>
<polygon points="36.80,326.53 39.33,321.98 34.27,321.98" fill="#fff" stroke="#555" stroke-width="1.3"/>
<polygon points="74.36,324.33 76.89,319.78 71.83,319.78" fill="#fff" stroke="#555" stroke-width="1.3"/>
<polygon points="118.18,318.78 120.71,314.23 115.65,314.23" fill="#fff" stroke="#555" stroke-width="1.3"/>
<polygon points="162.00,305.03 164.53,300.48 159.47,300.48" fill="#fff" stroke="#555" stroke-width="1.3"/>
<polygon points="36.80,306.13 38.67,308.00 36.80,309.87 34.93,308.00" fill="#333" stroke="#333" stroke-width="0.7"/>
<polygon points="74.36,282.93 76.23,284.80 74.36,286.67 72.49,284.80" fill="#333" stroke="#333" stroke-width="0.7"/>
<polygon points="118.18,274.13 120.05,276.00 118.18,277.87 116.31,276.00" fill="#333" stroke="#333" stroke-width="0.7"/>
<polygon points="162.00,280.13 163.87,282.00 162.00,283.87 160.13,282.00" fill="#333" stroke="#333" stroke-width="0.7"/>
<circle cx="36.80" cy="318.00" r="2.20" fill="#111" stroke="#111" stroke-width="0.7"/>
<circle cx="74.36" cy="306.00" r="2.20" fill="#111" stroke="#111" stroke-width="0.7"/>
<circle cx="118.18" cy="290.00" r="2.20" fill="#111" stroke="#111" stroke-width="0.7"/>
<circle cx="162.00" cy="273.75" r="2.20" fill="#111" stroke="#111" stroke-width="0.7"/>
<rect x="34.82" y="320.02" width="3.96" height="3.96" fill="#111" stroke="#111" stroke-width="0.7"/>
<rect x="72.38" y="315.02" width="3.96" height="3.96" fill="#111" stroke="#111" stroke-width="0.7"/>
<rect x="116.20" y="304.92" width="3.96" height="3.96" fill="#111" stroke="#111" stroke-width="0.7"/>
<rect x="160.02" y="289.02" width="3.96" height="3.96" fill="#111" stroke="#111" stroke-width="0.7"/>
<polygon points="36.80,311.47 39.33,316.02 34.27,316.02" fill="#111" stroke="#111" stroke-width="0.7"/>
<polygon points="74.36,295.97 76.89,300.52 71.83,300.52" fill="#111" stroke="#111" stroke-width="0.7"/>
<polygon points="118.18,282.47 120.71,287.02 115.65,287.02" fill="#111" stroke="#111" stroke-width="0.7"/>
<polygon points="162.00,278.47 164.53,283.02 159.47,283.02" fill="#111" stroke="#111" stroke-width="0.7"/>
<polygon points="36.80,331.03 39.33,326.48 34.27,326.48" fill="#111" stroke="#111" stroke-width="0.7"/>
<polygon points="74.36,307.53 76.89,302.98 71.83,302.98" fill="#111" stroke="#111" stroke-width="0.7"/>
<polygon points="118.18,290.53 120.71,285.98 115.65,285.98" fill="#111" stroke="#111" stroke-width="0.7"/>
<polygon points="162.00,269.03 164.53,264.48 159.47,264.48" fill="#111" stroke="#111" stroke-width="0.7"/>
<polygon points="36.80,314.13 38.67,316.00 36.80,317.87 34.93,316.00" fill="#111" stroke="#111" stroke-width="0.7"/>
<polygon points="74.36,301.13 76.23,303.00 74.36,304.87 72.49,303.00" fill="#111" stroke="#111" stroke-width="0.7"/>
<polygon points="118.18,281.13 120.05,283.00 118.18,284.87 116.31,283.00" fill="#111" stroke="#111" stroke-width="0.7"/>
<polygon points="162.00,276.13 163.87,278.00 162.00,279.87 160.13,278.00" fill="#111" stroke="#111" stroke-width="0.7"/>
<circle cx="36.80" cy="326.00" r="2.20" fill="#222" stroke="#222" stroke-width="0.7"/>
<circle cx="74.36" cy="320.00" r="2.20" fill="#222" stroke="#222" stroke-width="0.7"/>
<circle cx="118.18" cy="306.90" r="2.20" fill="#222" stroke="#222" stroke-width="0.7"/>
<circle cx="162.00" cy="302.50" r="2.20" fill="#222" stroke="#222" stroke-width="0.7"/>
<polygon points="162.00,305.61 165.10,300.02 158.90,300.02" fill="#4a4a4a" stroke="#4a4a4a" stroke-width="0.7"/>
<line x1="185.30" y1="232.40" x2="196.00" y2="232.40" stroke="#111" stroke-width="1.1" stroke-linecap="butt"/>
<circle cx="190.65" cy="232.40" r="2.20" fill="#111" stroke="#111" stroke-width="0.7"/>
<line x1="185.30" y1="244.80" x2="196.00" y2="244.80" stroke="#111" stroke-width="1.1" stroke-linecap="butt"/>
<rect x="188.67" y="242.82" width="3.96" height="3.96" fill="#111" stroke="#111" stroke-width="0.7"/>
<line x1="185.30" y1="257.20" x2="196.00" y2="257.20" stroke="#111" stroke-width="1.1" stroke-linecap="butt"/>
<polygon points="190.65,254.67 193.18,259.22 188.12,259.22" fill="#111" stroke="#111" stroke-width="0.7"/>
<line x1="185.30" y1="269.60" x2="196.00" y2="269.60" stroke="#111" stroke-width="1.1" stroke-linecap="butt"/>
<polygon points="190.65,272.13 193.18,267.58 188.12,267.58" fill="#111" stroke="#111" stroke-width="0.7"/>
<line x1="185.30" y1="282.70" x2="196.00" y2="282.70" stroke="#111" stroke-width="1.1" stroke-linecap="butt"/>
<polygon points="190.65,280.83 192.52,282.70 190.65,284.57 188.78,282.70" fill="#111" stroke="#111" stroke-width="0.7"/>
<line x1="185.30" y1="295.10" x2="196.00" y2="295.10" stroke="#111" stroke-width="1.1" stroke-linecap="butt"/>
<circle cx="190.65" cy="295.10" r="2.20" fill="#fff" stroke="#111" stroke-width="1.5"/>
<line x1="185.30" y1="308.00" x2="196.00" y2="308.00" stroke="#555" stroke-width="1.1" stroke-linecap="butt"/>
<rect x="188.67" y="306.02" width="3.96" height="3.96" fill="#fff" stroke="#555" stroke-width="1.5"/>
<line x1="185.30" y1="320.40" x2="196.00" y2="320.40" stroke="#555" stroke-width="1.1" stroke-linecap="butt"/>
<polygon points="190.65,317.87 193.18,322.42 188.12,322.42" fill="#fff" stroke="#555" stroke-width="1.5"/>
<line x1="185.30" y1="332.80" x2="196.00" y2="332.80" stroke="#555" stroke-width="1.1" stroke-linecap="butt"/>
<polygon points="190.65,335.33 193.18,330.78 188.12,330.78" fill="#fff" stroke="#555" stroke-width="1.5"/>
<line x1="185.30" y1="345.20" x2="196.00" y2="345.20" stroke="#555" stroke-width="1.1" stroke-linecap="butt"/>
<polygon points="190.65,342.56 193.29,345.20 190.65,347.84 188.01,345.20" fill="#555" stroke="#555" stroke-width="0.7"/>
<line x1="185.30" y1="357.60" x2="196.00" y2="357.60" stroke="#555" stroke-width="1.1" stroke-linecap="butt"/>
<circle cx="190.65" cy="357.60" r="2.20" fill="#555" stroke="#555" stroke-width="0.7"/>
<line x1="185.30" y1="368.90" x2="196.00" y2="368.90" stroke="#666" stroke-width="1.1" stroke-linecap="butt"/>
<polygon points="190.65,367.03 192.52,368.90 190.65,370.77 188.78,368.90" fill="#666" stroke="#666" stroke-width="0.7"/>
<polyline points="203.00,230.60 208.20,230.60 208.20,298.00 203.00,298.00" fill="none" stroke="#111" stroke-width="1.4"/>
<polyline points="203.30,303.60 208.50,303.60 208.50,373.00 203.30,373.00" fill="none" stroke="#111" stroke-width="1.4"/>
<text x="212.70" y="265.80" font-family="&quot;Liberation Serif&quot;, serif" font-size="8.60" font-weight="bold" stroke="#111" stroke-width="0.25" text-anchor="start" fill="#111" textLength="11.30" lengthAdjust="spacingAndGlyphs">CV</text>
<text x="213.00" y="334.30" font-family="&quot;Liberation Serif&quot;, serif" font-size="9.60" font-weight="bold" stroke="#111" stroke-width="0.25" text-anchor="start" fill="#111" textLength="34.20" lengthAdjust="spacingAndGlyphs">25mg/kg</text>
<text x="213.00" y="344.20" font-family="&quot;Liberation Serif&quot;, serif" font-size="9.40" font-weight="bold" stroke="#111" stroke-width="0.25" text-anchor="start" fill="#111" textLength="48.00" lengthAdjust="spacingAndGlyphs">Selumetinib</text>
<text x="1.50" y="214.00" font-family="&quot;Liberation Sans&quot;, sans-serif" font-size="12.50" font-weight="bold" stroke="#000" stroke-width="0.25" text-anchor="start" fill="#000">C</text>
<line x1="293.30" y1="360.13" x2="295.70" y2="360.13" stroke="#111" stroke-width="1.0" stroke-linecap="butt"/>
<line x1="293.30" y1="352.65" x2="295.70" y2="352.65" stroke="#111" stroke-width="1.0" stroke-linecap="butt"/>
<line x1="293.30" y1="347.35" x2="295.70" y2="347.35" stroke="#111" stroke-width="1.0" stroke-linecap="butt"/>
<line x1="293.30" y1="343.24" x2="295.70" y2="343.24" stroke="#111" stroke-width="1.0" stroke-linecap="butt"/>
<line x1="293.30" y1="339.88" x2="295.70" y2="339.88" stroke="#111" stroke-width="1.0" stroke-linecap="butt"/>
<line x1="293.30" y1="337.04" x2="295.70" y2="337.04" stroke="#111" stroke-width="1.0" stroke-linecap="butt"/>
<line x1="293.30" y1="334.58" x2="295.70" y2="334.58" stroke="#111" stroke-width="1.0" stroke-linecap="butt"/>
<line x1="293.30" y1="332.41" x2="295.70" y2="332.41" stroke="#111" stroke-width="1.0" stroke-linecap="butt"/>
<line x1="293.30" y1="317.69" x2="295.70" y2="317.69" stroke="#111" stroke-width="1.0" stroke-linecap="butt"/>
<line x1="293.30" y1="310.22" x2="295.70" y2="310.22" stroke="#111" stroke-width="1.0" stroke-linecap="butt"/>
<line x1="293.30" y1="304.92" x2="295.70" y2="304.92" stroke="#111" stroke-width="1.0" stroke-linecap="butt"/>
<line x1="293.30" y1="300.81" x2="295.70" y2="300.81" stroke="#111" stroke-width="1.0" stroke-linecap="butt"/>
<line x1="293.30" y1="297.45" x2="295.70" y2="297.45" stroke="#111" stroke-width="1.0" stroke-linecap="butt"/>
<line x1="293.30" y1="294.61" x2="295.70" y2="294.61" stroke="#111" stroke-width="1.0" stroke-linecap="butt"/>
<line x1="293.30" y1="292.15" x2="295.70" y2="292.15" stroke="#111" stroke-width="1.0" stroke-linecap="butt"/>
<line x1="293.30" y1="289.97" x2="295.70" y2="289.97" stroke="#111" stroke-width="1.0" stroke-linecap="butt"/>
<line x1="293.30" y1="275.26" x2="295.70" y2="275.26" stroke="#111" stroke-width="1.0" stroke-linecap="butt"/>
<line x1="293.30" y1="267.79" x2="295.70" y2="267.79" stroke="#111" stroke-width="1.0" stroke-linecap="butt"/>
<line x1="293.30" y1="262.49" x2="295.70" y2="262.49" stroke="#111" stroke-width="1.0" stroke-linecap="butt"/>
<line x1="293.30" y1="258.37" x2="295.70" y2="258.37" stroke="#111" stroke-width="1.0" stroke-linecap="butt"/>
<line x1="293.30" y1="255.01" x2="295.70" y2="255.01" stroke="#111" stroke-width="1.0" stroke-linecap="butt"/>
<line x1="293.30" y1="252.17" x2="295.70" y2="252.17" stroke="#111" stroke-width="1.0" stroke-linecap="butt"/>
<line x1="293.30" y1="249.71" x2="295.70" y2="249.71" stroke="#111" stroke-width="1.0" stroke-linecap="butt"/>
<line x1="293.30" y1="247.54" x2="295.70" y2="247.54" stroke="#111" stroke-width="1.0" stroke-linecap="butt"/>
<line x1="292.50" y1="245.60" x2="295.70" y2="245.60" stroke="#111" stroke-width="1.2" stroke-linecap="butt"/>
<line x1="292.50" y1="288.03" x2="295.70" y2="288.03" stroke="#111" stroke-width="1.2" stroke-linecap="butt"/>
<line x1="292.50" y1="330.47" x2="295.70" y2="330.47" stroke="#111" stroke-width="1.2" stroke-linecap="butt"/>
<line x1="292.50" y1="372.90" x2="295.70" y2="372.90" stroke="#111" stroke-width="1.2" stroke-linecap="butt"/>
<line x1="295.70" y1="245.10" x2="295.70" y2="373.60" stroke="#111" stroke-width="1.6" stroke-linecap="butt"/>
<line x1="294.90" y1="372.90" x2="424.00" y2="372.90" stroke="#111" stroke-width="1.6" stroke-linecap="butt"/>
<line x1="295.70" y1="372.90" x2="295.70" y2="376.10" stroke="#111" stroke-width="1.2" stroke-linecap="butt"/>
<line x1="327.62" y1="372.90" x2="327.62" y2="376.10" stroke="#111" stroke-width="1.2" stroke-linecap="butt"/>
<line x1="359.55" y1="372.90" x2="359.55" y2="376.10" stroke="#111" stroke-width="1.2" stroke-linecap="butt"/>
<line x1="391.47" y1="372.90" x2="391.47" y2="376.10" stroke="#111" stroke-width="1.2" stroke-linecap="butt"/>
<line x1="423.40" y1="372.90" x2="423.40" y2="376.10" stroke="#111" stroke-width="1.2" stroke-linecap="butt"/>
<text x="291.20" y="248.42" font-family="&quot;Liberation Serif&quot;, serif" font-size="8.30" font-weight="bold" stroke="#111" stroke-width="0.25" text-anchor="end" fill="#111">100</text>
<text x="291.20" y="290.86" font-family="&quot;Liberation Serif&quot;, serif" font-size="8.30" font-weight="bold" stroke="#111" stroke-width="0.25" text-anchor="end" fill="#111">10</text>
<text x="291.20" y="333.29" font-family="&quot;Liberation Serif&quot;, serif" font-size="8.30" font-weight="bold" stroke="#111" stroke-width="0.25" text-anchor="end" fill="#111">1</text>
<text x="291.20" y="375.72" font-family="&quot;Liberation Serif&quot;, serif" font-size="8.30" font-weight="bold" stroke="#111" stroke-width="0.25" text-anchor="end" fill="#111">0.1</text>
<text x="295.70" y="384.90" font-family="&quot;Liberation Serif&quot;, serif" font-size="8.30" font-weight="bold" stroke="#111" stroke-width="0.25" text-anchor="middle" fill="#111">0</text>
<text x="327.62" y="384.90" font-family="&quot;Liberation Serif&quot;, serif" font-size="8.30" font-weight="bold" stroke="#111" stroke-width="0.25" text-anchor="middle" fill="#111">5</text>
<text x="359.55" y="384.90" font-family="&quot;Liberation Serif&quot;, serif" font-size="8.30" font-weight="bold" stroke="#111" stroke-width="0.25" text-anchor="middle" fill="#111">10</text>
<text x="391.47" y="384.90" font-family="&quot;Liberation Serif&quot;, serif" font-size="8.30" font-weight="bold" stroke="#111" stroke-width="0.25" text-anchor="middle" fill="#111">15</text>
<text x="423.40" y="384.90" font-family="&quot;Liberation Serif&quot;, serif" font-size="8.30" font-weight="bold" stroke="#111" stroke-width="0.25" text-anchor="middle" fill="#111">20</text>
<text x="323.90" y="396.00" font-family="&quot;Liberation Serif&quot;, serif" font-size="9.20" font-weight="bold" stroke="#1a1a1a" stroke-width="0.25" text-anchor="start" fill="#1a1a1a" textLength="70.70" lengthAdjust="spacingAndGlyphs">Days of treatment</text>
<text x="277.30" y="309.30" font-family="&quot;Liberation Serif&quot;, serif" font-size="9.00" font-weight="bold" stroke="#1a1a1a" stroke-width="0.1" text-anchor="middle" fill="#1a1a1a" textLength="57.00" lengthAdjust="spacingAndGlyphs" transform="rotate(-90 277.30 309.30)">% Blasts (log)</text>
<text x="317.40" y="218.75" font-family="&quot;Liberation Serif&quot;, serif" font-size="10.15" font-weight="bold" stroke="#111" stroke-width="0.25" text-anchor="start" fill="#111" textLength="85.70" lengthAdjust="spacingAndGlyphs">L779 (RAS mutant)</text>
<polyline points="295.70,283.00 334.01,278.00 385.09,274.50 417.01,258.00" fill="none" stroke="#111" stroke-width="1.2" stroke-linejoin="round"/>
<polyline points="295.70,305.80 334.01,278.10 385.09,313.50 417.01,310.20" fill="none" stroke="#444" stroke-width="1.0" stroke-linejoin="round"/>
<polyline points="295.70,305.80 334.01,305.80 385.09,335.00 417.01,331.80" fill="none" stroke="#333" stroke-width="1.0" stroke-linejoin="round"/>
<polyline points="295.70,305.00 334.01,311.00 385.09,331.80 417.01,331.80" fill="none" stroke="#444" stroke-width="1.0" stroke-linejoin="round"/>
<polyline points="295.70,298.40 334.01,298.40 385.09,344.40 417.01,347.90" fill="none" stroke="#333" stroke-width="1.0" stroke-linejoin="round"/>
<polyline points="295.70,280.40 334.01,298.40 385.09,344.40 417.01,357.00" fill="none" stroke="#333" stroke-width="1.0" stroke-linejoin="round"/>
<polyline points="334.01,298.40" fill="none" stroke="#333" stroke-width="1.0" stroke-linejoin="round"/>
<polyline points="295.70,298.40 334.01,286.50 385.09,268.30 417.01,254.80" fill="none" stroke="#111" stroke-width="1.2" stroke-linejoin="round"/>
<polyline points="295.70,280.40 334.01,270.30 385.09,263.00 417.01,257.50" fill="none" stroke="#111" stroke-width="1.2" stroke-linejoin="round"/>
<polyline points="295.70,293.00 334.01,266.00 385.09,263.00 417.01,256.00" fill="none" stroke="#111" stroke-width="1.2" stroke-linejoin="round"/>
<polyline points="295.70,277.00 334.01,264.00 385.09,262.00 417.01,256.00" fill="none" stroke="#111" stroke-width="1.2" stroke-linejoin="round"/>
<polygon points="295.70,281.05 297.65,283.00 295.70,284.95 293.75,283.00" fill="#111" stroke="#111" stroke-width="0.7"/>
<polygon points="334.01,276.05 335.96,278.00 334.01,279.95 332.06,278.00" fill="#111" stroke="#111" stroke-width="0.7"/>
<polygon points="385.09,272.55 387.04,274.50 385.09,276.45 383.13,274.50" fill="#111" stroke="#111" stroke-width="0.7"/>
<polygon points="417.01,256.05 418.97,258.00 417.01,259.95 415.06,258.00" fill="#111" stroke="#111" stroke-width="0.7"/>
<circle cx="295.70" cy="305.80" r="2.30" fill="#fff" stroke="#444" stroke-width="1.3"/>
<circle cx="334.01" cy="278.10" r="2.30" fill="#fff" stroke="#444" stroke-width="1.3"/>
<circle cx="385.09" cy="313.50" r="2.30" fill="#fff" stroke="#444" stroke-width="1.3"/>
<circle cx="417.01" cy="310.20" r="2.30" fill="#fff" stroke="#444" stroke-width="1.3"/>
<rect x="293.63" y="303.73" width="4.14" height="4.14" fill="#fff" stroke="#333" stroke-width="1.3"/>
<rect x="331.94" y="303.73" width="4.14" height="4.14" fill="#fff" stroke="#333" stroke-width="1.3"/>
<rect x="383.02" y="332.93" width="4.14" height="4.14" fill="#fff" stroke="#333" stroke-width="1.3"/>
<rect x="414.94" y="329.73" width="4.14" height="4.14" fill="#fff" stroke="#333" stroke-width="1.3"/>
<polygon points="295.70,302.36 298.34,307.12 293.06,307.12" fill="#fff" stroke="#444" stroke-width="1.3"/>
<polygon points="334.01,308.36 336.65,313.12 331.37,313.12" fill="#fff" stroke="#444" stroke-width="1.3"/>
<polygon points="385.09,329.16 387.73,333.92 382.44,333.92" fill="#fff" stroke="#444" stroke-width="1.3"/>
<polygon points="417.01,329.16 419.66,333.92 414.37,333.92" fill="#fff" stroke="#444" stroke-width="1.3"/>
<polygon points="295.70,301.04 298.34,296.28 293.06,296.28" fill="#fff" stroke="#333" stroke-width="1.3"/>
<polygon points="334.01,301.04 336.65,296.28 331.37,296.28" fill="#fff" stroke="#333" stroke-width="1.3"/>
<polygon points="385.09,347.04 387.73,342.28 382.44,342.28" fill="#fff" stroke="#333" stroke-width="1.3"/>
<polygon points="417.01,350.54 419.66,345.78 414.37,345.78" fill="#fff" stroke="#333" stroke-width="1.3"/>
<polygon points="295.70,277.64 298.46,280.40 295.70,283.16 292.94,280.40" fill="#fff" stroke="#333" stroke-width="1.3"/>
<polygon points="334.01,295.64 336.77,298.40 334.01,301.16 331.25,298.40" fill="#fff" stroke="#333" stroke-width="1.3"/>
<polygon points="385.09,341.64 387.85,344.40 385.09,347.16 382.33,344.40" fill="#fff" stroke="#333" stroke-width="1.3"/>
<polygon points="417.01,354.24 419.77,357.00 417.01,359.76 414.25,357.00" fill="#fff" stroke="#333" stroke-width="1.3"/>
<polygon points="334.01,295.64 336.77,298.40 334.01,301.16 331.25,298.40" fill="#333" stroke="#333" stroke-width="0.7"/>
<rect x="293.63" y="296.33" width="4.14" height="4.14" fill="#111" stroke="#111" stroke-width="0.7"/>
<rect x="331.94" y="284.43" width="4.14" height="4.14" fill="#111" stroke="#111" stroke-width="0.7"/>
<rect x="383.02" y="266.23" width="4.14" height="4.14" fill="#111" stroke="#111" stroke-width="0.7"/>
<rect x="414.94" y="252.73" width="4.14" height="4.14" fill="#111" stroke="#111" stroke-width="0.7"/>
<polygon points="295.70,277.75 298.34,282.52 293.06,282.52" fill="#111" stroke="#111" stroke-width="0.7"/>
<polygon points="334.01,267.66 336.65,272.42 331.37,272.42" fill="#111" stroke="#111" stroke-width="0.7"/>
<polygon points="385.09,260.36 387.73,265.12 382.44,265.12" fill="#111" stroke="#111" stroke-width="0.7"/>
<polygon points="417.01,254.85 419.66,259.62 414.37,259.62" fill="#111" stroke="#111" stroke-width="0.7"/>
<polygon points="295.70,295.64 298.34,290.88 293.06,290.88" fill="#111" stroke="#111" stroke-width="0.7"/>
<polygon points="334.01,268.64 336.65,263.88 331.37,263.88" fill="#111" stroke="#111" stroke-width="0.7"/>
<polygon points="385.09,265.64 387.73,260.88 382.44,260.88" fill="#111" stroke="#111" stroke-width="0.7"/>
<polygon points="417.01,258.64 419.66,253.88 414.37,253.88" fill="#111" stroke="#111" stroke-width="0.7"/>
<circle cx="295.70" cy="277.00" r="2.30" fill="#111" stroke="#111" stroke-width="0.7"/>
<circle cx="334.01" cy="264.00" r="2.30" fill="#111" stroke="#111" stroke-width="0.7"/>
<circle cx="385.09" cy="262.00" r="2.30" fill="#111" stroke="#111" stroke-width="0.7"/>
<circle cx="417.01" cy="256.00" r="2.30" fill="#111" stroke="#111" stroke-width="0.7"/>
<line x1="444.30" y1="263.70" x2="455.30" y2="263.70" stroke="#222" stroke-width="1.1" stroke-linecap="butt"/>
<circle cx="449.80" cy="263.70" r="2.10" fill="#1a1a1a" stroke="#1a1a1a" stroke-width="0.7"/>
<line x1="444.30" y1="276.60" x2="455.30" y2="276.60" stroke="#222" stroke-width="1.1" stroke-linecap="butt"/>
<rect x="447.91" y="274.71" width="3.78" height="3.78" fill="#1a1a1a" stroke="#1a1a1a" stroke-width="0.7"/>
<line x1="444.30" y1="288.90" x2="455.30" y2="288.90" stroke="#222" stroke-width="1.1" stroke-linecap="butt"/>
<polygon points="449.80,286.48 452.22,290.83 447.38,290.83" fill="#1a1a1a" stroke="#1a1a1a" stroke-width="0.7"/>
<line x1="444.30" y1="301.30" x2="455.30" y2="301.30" stroke="#222" stroke-width="1.1" stroke-linecap="butt"/>
<polygon points="449.80,303.72 452.22,299.37 447.38,299.37" fill="#1a1a1a" stroke="#1a1a1a" stroke-width="0.7"/>
<line x1="444.30" y1="313.80" x2="455.30" y2="313.80" stroke="#222" stroke-width="1.1" stroke-linecap="butt"/>
<polygon points="449.80,312.01 451.59,313.80 449.80,315.59 448.01,313.80" fill="#1a1a1a" stroke="#1a1a1a" stroke-width="0.7"/>
<line x1="444.30" y1="325.50" x2="455.30" y2="325.50" stroke="#222" stroke-width="1.1" stroke-linecap="butt"/>
<circle cx="449.80" cy="325.50" r="2.10" fill="#fff" stroke="#1a1a1a" stroke-width="1.5"/>
<line x1="444.30" y1="338.30" x2="455.30" y2="338.30" stroke="#222" stroke-width="1.1" stroke-linecap="butt"/>
<rect x="447.91" y="336.41" width="3.78" height="3.78" fill="#fff" stroke="#1a1a1a" stroke-width="1.5"/>
<line x1="444.30" y1="350.80" x2="455.30" y2="350.80" stroke="#222" stroke-width="1.1" stroke-linecap="butt"/>
<polygon points="449.80,348.38 452.22,352.73 447.38,352.73" fill="#fff" stroke="#1a1a1a" stroke-width="1.5"/>
<line x1="444.30" y1="363.10" x2="455.30" y2="363.10" stroke="#222" stroke-width="1.1" stroke-linecap="butt"/>
<polygon points="449.80,365.52 452.22,361.17 447.38,361.17" fill="#fff" stroke="#1a1a1a" stroke-width="1.5"/>
<line x1="444.30" y1="375.60" x2="455.30" y2="375.60" stroke="#222" stroke-width="1.1" stroke-linecap="butt"/>
<polygon points="449.80,373.08 452.32,375.60 449.80,378.12 447.28,375.60" fill="#fff" stroke="#1a1a1a" stroke-width="1.5"/>
<polyline points="461.40,262.50 467.20,262.50 467.20,315.00 461.40,315.00" fill="none" stroke="#111" stroke-width="1.4"/>
<polyline points="461.80,323.20 467.60,323.20 467.60,376.50 461.80,376.50" fill="none" stroke="#111" stroke-width="1.4"/>
<text x="472.70" y="290.50" font-family="&quot;Liberation Serif&quot;, serif" font-size="8.80" stroke="#222" stroke-width="0.25" text-anchor="start" fill="#222" textLength="11.40" lengthAdjust="spacingAndGlyphs">CV</text>
<text x="472.00" y="348.00" font-family="&quot;Liberation Serif&quot;, serif" font-size="8.60" font-weight="bold" stroke="#222" stroke-width="0.25" text-anchor="start" fill="#222" textLength="33.70" lengthAdjust="spacingAndGlyphs">25mg/kg</text>
<text x="472.00" y="356.20" font-family="&quot;Liberation Serif&quot;, serif" font-size="8.60" font-weight="bold" stroke="#222" stroke-width="0.25" text-anchor="start" fill="#222" textLength="47.00" lengthAdjust="spacingAndGlyphs">Selumetinib</text>
<text x="263.50" y="214.00" font-family="&quot;Liberation Sans&quot;, sans-serif" font-size="12.50" font-weight="bold" stroke="#000" stroke-width="0.25" text-anchor="start" fill="#000">D</text>
<defs><linearGradient id="vE" x1="0" y1="0" x2="1" y2="0"><stop offset="0" stop-color="#f2f2f2"/><stop offset="0.45" stop-color="#f7f7f7"/><stop offset="0.7" stop-color="#ececec"/><stop offset="0.88" stop-color="#d8d8d8"/><stop offset="1" stop-color="#bcbcbc"/></linearGradient><linearGradient id="vE2" x1="0" y1="0" x2="0" y2="1"><stop offset="0" stop-color="#000" stop-opacity="0.10"/><stop offset="0.12" stop-color="#000" stop-opacity="0.0"/><stop offset="0.88" stop-color="#000" stop-opacity="0.0"/><stop offset="1" stop-color="#000" stop-opacity="0.08"/></linearGradient><linearGradient id="rE" x1="0" y1="0" x2="1" y2="0"><stop offset="0" stop-color="#bdbdbd"/><stop offset="0.12" stop-color="#dcdcdc"/><stop offset="0.3" stop-color="#e8e8e8"/><stop offset="1" stop-color="#e4e4e4"/></linearGradient><filter id="blur1" x="-20%" y="-20%" width="140%" height="140%"><feGaussianBlur stdDeviation="1.2"/></filter><filter id="blur05" x="-20%" y="-20%" width="140%" height="140%"><feGaussianBlur stdDeviation="0.5"/></filter></defs>
<rect x="33.60" y="429.60" width="168.80" height="109.80" fill="url(#vE)" stroke="#3a3a3a" stroke-width="1.4"/>
<rect x="34.3" y="430.3" width="167.4" height="108.4" fill="url(#vE2)"/>
<rect x="34.40" y="430.30" width="23.80" height="108.40" fill="url(#rE)"/>
<line x1="40.35" y1="432.00" x2="58.20" y2="432.00" stroke="#333" stroke-width="0.9" stroke-linecap="butt"/>
<line x1="51.06" y1="434.35" x2="58.20" y2="434.35" stroke="#333" stroke-width="0.7" stroke-linecap="butt"/>
<line x1="51.06" y1="436.70" x2="58.20" y2="436.70" stroke="#333" stroke-width="0.7" stroke-linecap="butt"/>
<line x1="51.06" y1="439.05" x2="58.20" y2="439.05" stroke="#333" stroke-width="0.7" stroke-linecap="butt"/>
<line x1="51.06" y1="441.40" x2="58.20" y2="441.40" stroke="#333" stroke-width="0.7" stroke-linecap="butt"/>
<line x1="47.49" y1="443.75" x2="58.20" y2="443.75" stroke="#333" stroke-width="0.8" stroke-linecap="butt"/>
<line x1="51.06" y1="446.10" x2="58.20" y2="446.10" stroke="#333" stroke-width="0.7" stroke-linecap="butt"/>
<line x1="51.06" y1="448.45" x2="58.20" y2="448.45" stroke="#333" stroke-width="0.7" stroke-linecap="butt"/>
<line x1="51.06" y1="450.80" x2="58.20" y2="450.80" stroke="#333" stroke-width="0.7" stroke-linecap="butt"/>
<line x1="51.06" y1="453.15" x2="58.20" y2="453.15" stroke="#333" stroke-width="0.7" stroke-linecap="butt"/>
<line x1="40.35" y1="455.50" x2="58.20" y2="455.50" stroke="#333" stroke-width="0.9" stroke-linecap="butt"/>
<line x1="51.06" y1="457.85" x2="58.20" y2="457.85" stroke="#333" stroke-width="0.7" stroke-linecap="butt"/>
<line x1="51.06" y1="460.20" x2="58.20" y2="460.20" stroke="#333" stroke-width="0.7" stroke-linecap="butt"/>
<line x1="51.06" y1="462.55" x2="58.20" y2="462.55" stroke="#333" stroke-width="0.7" stroke-linecap="butt"/>
<line x1="51.06" y1="464.90" x2="58.20" y2="464.90" stroke="#333" stroke-width="0.7" stroke-linecap="butt"/>
<line x1="47.49" y1="467.25" x2="58.20" y2="467.25" stroke="#333" stroke-width="0.8" stroke-linecap="butt"/>
<line x1="51.06" y1="469.60" x2="58.20" y2="469.60" stroke="#333" stroke-width="0.7" stroke-linecap="butt"/>
<line x1="51.06" y1="471.95" x2="58.20" y2="471.95" stroke="#333" stroke-width="0.7" stroke-linecap="butt"/>
<line x1="51.06" y1="474.30" x2="58.20" y2="474.30" stroke="#333" stroke-width="0.7" stroke-linecap="butt"/>
<line x1="51.06" y1="476.65" x2="58.20" y2="476.65" stroke="#333" stroke-width="0.7" stroke-linecap="butt"/>
<line x1="40.35" y1="479.00" x2="58.20" y2="479.00" stroke="#333" stroke-width="0.9" stroke-linecap="butt"/>
<line x1="51.06" y1="481.35" x2="58.20" y2="481.35" stroke="#333" stroke-width="0.7" stroke-linecap="butt"/>
<line x1="51.06" y1="483.70" x2="58.20" y2="483.70" stroke="#333" stroke-width="0.7" stroke-linecap="butt"/>
<line x1="51.06" y1="486.05" x2="58.20" y2="486.05" stroke="#333" stroke-width="0.7" stroke-linecap="butt"/>
<line x1="51.06" y1="488.40" x2="58.20" y2="488.40" stroke="#333" stroke-width="0.7" stroke-linecap="butt"/>
<line x1="47.49" y1="490.75" x2="58.20" y2="490.75" stroke="#333" stroke-width="0.8" stroke-linecap="butt"/>
<line x1="51.06" y1="493.10" x2="58.20" y2="493.10" stroke="#333" stroke-width="0.7" stroke-linecap="butt"/>
<line x1="51.06" y1="495.45" x2="58.20" y2="495.45" stroke="#333" stroke-width="0.7" stroke-linecap="butt"/>
<line x1="51.06" y1="497.80" x2="58.20" y2="497.80" stroke="#333" stroke-width="0.7" stroke-linecap="butt"/>
<line x1="51.06" y1="500.15" x2="58.20" y2="500.15" stroke="#333" stroke-width="0.7" stroke-linecap="butt"/>
<line x1="40.35" y1="502.50" x2="58.20" y2="502.50" stroke="#333" stroke-width="0.9" stroke-linecap="butt"/>
<line x1="51.06" y1="504.85" x2="58.20" y2="504.85" stroke="#333" stroke-width="0.7" stroke-linecap="butt"/>
<line x1="51.06" y1="507.20" x2="58.20" y2="507.20" stroke="#333" stroke-width="0.7" stroke-linecap="butt"/>
<line x1="51.06" y1="509.55" x2="58.20" y2="509.55" stroke="#333" stroke-width="0.7" stroke-linecap="butt"/>
<line x1="51.06" y1="511.90" x2="58.20" y2="511.90" stroke="#333" stroke-width="0.7" stroke-linecap="butt"/>
<line x1="47.49" y1="514.25" x2="58.20" y2="514.25" stroke="#333" stroke-width="0.8" stroke-linecap="butt"/>
<line x1="51.06" y1="516.60" x2="58.20" y2="516.60" stroke="#333" stroke-width="0.7" stroke-linecap="butt"/>
<line x1="51.06" y1="518.95" x2="58.20" y2="518.95" stroke="#333" stroke-width="0.7" stroke-linecap="butt"/>
<line x1="51.06" y1="521.30" x2="58.20" y2="521.30" stroke="#333" stroke-width="0.7" stroke-linecap="butt"/>
<line x1="51.06" y1="523.65" x2="58.20" y2="523.65" stroke="#333" stroke-width="0.7" stroke-linecap="butt"/>
<line x1="40.35" y1="526.00" x2="58.20" y2="526.00" stroke="#333" stroke-width="0.9" stroke-linecap="butt"/>
<line x1="51.06" y1="528.35" x2="58.20" y2="528.35" stroke="#333" stroke-width="0.7" stroke-linecap="butt"/>
<line x1="51.06" y1="530.70" x2="58.20" y2="530.70" stroke="#333" stroke-width="0.7" stroke-linecap="butt"/>
<line x1="51.06" y1="533.05" x2="58.20" y2="533.05" stroke="#333" stroke-width="0.7" stroke-linecap="butt"/>
<line x1="51.06" y1="535.40" x2="58.20" y2="535.40" stroke="#333" stroke-width="0.7" stroke-linecap="butt"/>
<text x="43.00" y="452.50" font-family="&quot;Liberation Serif&quot;, serif" font-size="10.50" font-weight="bold" stroke="#111" stroke-width="0.25" text-anchor="middle" fill="#111" transform="rotate(90 43.00 452.50)" dominant-baseline="central">1</text>
<text x="43.00" y="476.00" font-family="&quot;Liberation Serif&quot;, serif" font-size="10.50" font-weight="bold" stroke="#111" stroke-width="0.25" text-anchor="middle" fill="#111" transform="rotate(90 43.00 476.00)" dominant-baseline="central">2</text>
<text x="43.00" y="499.50" font-family="&quot;Liberation Serif&quot;, serif" font-size="10.50" font-weight="bold" stroke="#111" stroke-width="0.25" text-anchor="middle" fill="#111" transform="rotate(90 43.00 499.50)" dominant-baseline="central">3</text>
<text x="43.00" y="523.00" font-family="&quot;Liberation Serif&quot;, serif" font-size="10.50" font-weight="bold" stroke="#111" stroke-width="0.25" text-anchor="middle" fill="#111" transform="rotate(90 43.00 523.00)" dominant-baseline="central">4</text>
<text x="44.50" y="437.20" font-family="&quot;Liberation Serif&quot;, serif" font-size="8.50" font-weight="bold" stroke="#111" stroke-width="0.25" text-anchor="middle" fill="#111" textLength="9.50" lengthAdjust="spacingAndGlyphs" transform="rotate(90 44.50 437.20)" dominant-baseline="central">CM</text>
<clipPath id="cE1"><path d="M85.00,466.60 C86.44,466.53 89.34,467.24 90.20,467.90 C91.06,468.56 90.76,469.62 90.70,471.00 C90.64,472.38 90.01,474.87 89.80,477.10 C89.59,479.34 89.38,483.27 89.30,485.90 C89.22,488.52 89.16,491.99 89.30,494.60 C89.44,497.21 89.87,500.94 90.20,503.30 C90.53,505.66 91.36,508.34 91.50,510.30 C91.64,512.26 91.55,514.82 91.10,516.40 C90.65,517.98 89.69,519.87 88.50,520.80 C87.31,521.73 84.78,522.47 83.20,522.60 C81.62,522.74 79.44,522.36 78.00,521.70 C76.56,521.04 74.71,519.64 73.60,518.20 C72.49,516.76 71.32,514.34 70.60,512.10 C69.88,509.87 69.20,505.93 68.80,503.30 C68.39,500.68 67.96,497.09 67.90,494.60 C67.84,492.11 67.94,488.94 68.40,486.70 C68.87,484.46 69.95,481.80 71.00,479.70 C72.05,477.60 73.96,474.39 75.40,472.70 C76.84,471.00 79.16,469.31 80.60,468.40 C82.04,467.48 83.56,466.68 85.00,466.60 Z"/></clipPath>
<path d="M85.00,466.60 C86.44,466.53 89.34,467.24 90.20,467.90 C91.06,468.56 90.76,469.62 90.70,471.00 C90.64,472.38 90.01,474.87 89.80,477.10 C89.59,479.34 89.38,483.27 89.30,485.90 C89.22,488.52 89.16,491.99 89.30,494.60 C89.44,497.21 89.87,500.94 90.20,503.30 C90.53,505.66 91.36,508.34 91.50,510.30 C91.64,512.26 91.55,514.82 91.10,516.40 C90.65,517.98 89.69,519.87 88.50,520.80 C87.31,521.73 84.78,522.47 83.20,522.60 C81.62,522.74 79.44,522.36 78.00,521.70 C76.56,521.04 74.71,519.64 73.60,518.20 C72.49,516.76 71.32,514.34 70.60,512.10 C69.88,509.87 69.20,505.93 68.80,503.30 C68.39,500.68 67.96,497.09 67.90,494.60 C67.84,492.11 67.94,488.94 68.40,486.70 C68.87,484.46 69.95,481.80 71.00,479.70 C72.05,477.60 73.96,474.39 75.40,472.70 C76.84,471.00 79.16,469.31 80.60,468.40 C82.04,467.48 83.56,466.68 85.00,466.60 Z" fill="#060606"/>
<g clip-path="url(#cE1)">
<ellipse cx="73.5" cy="490" rx="2.5" ry="4" transform="rotate(0 73.5 490)" fill="#666" opacity="0.7" filter="url(#blur1)"/>
<circle cx="78" cy="478" r="0.5" fill="#cfcfcf" opacity="0.5"/>
<circle cx="79.5" cy="484" r="0.45" fill="#cfcfcf" opacity="0.5"/>
<circle cx="77" cy="495" r="0.45" fill="#cfcfcf" opacity="0.6"/>
<circle cx="79" cy="499" r="0.5" fill="#cfcfcf" opacity="0.5"/>
<circle cx="80.5" cy="505" r="0.5" fill="#cfcfcf" opacity="0.6"/>
<circle cx="81" cy="512" r="0.5" fill="#cfcfcf" opacity="0.6"/>
<circle cx="76" cy="487" r="0.4" fill="#cfcfcf" opacity="0.4"/>
</g>
<clipPath id="cE2"><path d="M117.30,472.30 C118.72,472.12 121.16,472.40 122.10,472.70 C123.04,473.00 123.38,473.70 123.60,474.30 C123.82,474.90 123.82,475.75 123.60,476.70 C123.38,477.64 122.68,479.30 122.10,480.60 C121.52,481.91 120.24,483.85 119.70,485.40 C119.16,486.94 118.62,489.13 118.50,490.90 C118.38,492.67 118.60,495.19 118.90,497.20 C119.20,499.21 120.14,502.05 120.50,504.30 C120.86,506.55 121.42,510.18 121.30,512.20 C121.18,514.23 120.54,516.62 119.70,517.80 C118.86,518.98 117.01,519.75 115.70,520.10 C114.39,520.45 112.41,520.45 111.00,520.10 C109.59,519.75 107.61,518.98 106.30,517.80 C104.99,516.62 103.20,514.23 102.30,512.20 C101.40,510.18 100.66,506.67 100.30,504.30 C99.94,501.93 99.78,498.65 99.90,496.40 C100.02,494.15 100.50,491.19 101.10,489.30 C101.70,487.41 102.90,485.45 103.90,483.80 C104.91,482.15 106.50,479.79 107.80,478.30 C109.10,476.81 111.17,474.80 112.60,473.90 C114.02,473.00 115.88,472.48 117.30,472.30 Z"/></clipPath>
<path d="M117.30,472.30 C118.72,472.12 121.16,472.40 122.10,472.70 C123.04,473.00 123.38,473.70 123.60,474.30 C123.82,474.90 123.82,475.75 123.60,476.70 C123.38,477.64 122.68,479.30 122.10,480.60 C121.52,481.91 120.24,483.85 119.70,485.40 C119.16,486.94 118.62,489.13 118.50,490.90 C118.38,492.67 118.60,495.19 118.90,497.20 C119.20,499.21 120.14,502.05 120.50,504.30 C120.86,506.55 121.42,510.18 121.30,512.20 C121.18,514.23 120.54,516.62 119.70,517.80 C118.86,518.98 117.01,519.75 115.70,520.10 C114.39,520.45 112.41,520.45 111.00,520.10 C109.59,519.75 107.61,518.98 106.30,517.80 C104.99,516.62 103.20,514.23 102.30,512.20 C101.40,510.18 100.66,506.67 100.30,504.30 C99.94,501.93 99.78,498.65 99.90,496.40 C100.02,494.15 100.50,491.19 101.10,489.30 C101.70,487.41 102.90,485.45 103.90,483.80 C104.91,482.15 106.50,479.79 107.80,478.30 C109.10,476.81 111.17,474.80 112.60,473.90 C114.02,473.00 115.88,472.48 117.30,472.30 Z" fill="#060606"/>
<g clip-path="url(#cE2)">
<ellipse cx="113" cy="496" rx="1.8" ry="2.5" transform="rotate(0 113 496)" fill="#444" opacity="0.6" filter="url(#blur1)"/>
<circle cx="108.5" cy="487" r="0.4" fill="#cfcfcf" opacity="0.5"/>
<circle cx="109" cy="493" r="0.4" fill="#cfcfcf" opacity="0.5"/>
<circle cx="109.5" cy="500" r="0.4" fill="#cfcfcf" opacity="0.5"/>
<circle cx="110" cy="506" r="0.45" fill="#cfcfcf" opacity="0.5"/>
<circle cx="110.5" cy="513" r="0.45" fill="#cfcfcf" opacity="0.5"/>
<circle cx="113" cy="476" r="0.4" fill="#cfcfcf" opacity="0.4"/>
</g>
<clipPath id="cE3"><path d="M155.60,468.40 C156.59,468.40 157.41,468.68 157.80,469.20 C158.19,469.72 158.39,470.71 158.20,471.90 C158.00,473.08 156.95,475.41 156.50,477.10 C156.05,478.80 155.39,481.37 155.20,483.20 C155.00,485.03 155.08,487.20 155.20,489.30 C155.32,491.40 155.69,494.83 156.00,497.20 C156.31,499.57 156.97,502.73 157.30,505.10 C157.63,507.47 158.12,510.90 158.20,513.00 C158.27,515.10 158.33,517.80 157.80,519.10 C157.28,520.40 155.94,521.31 154.70,521.70 C153.45,522.09 151.07,522.09 149.50,521.70 C147.93,521.31 145.64,520.15 144.20,519.10 C142.76,518.05 140.95,516.41 139.90,514.70 C138.85,512.99 137.80,510.06 137.20,507.70 C136.60,505.34 135.96,501.36 135.90,499.00 C135.84,496.64 136.20,494.24 136.80,492.00 C137.40,489.76 138.91,486.34 139.90,484.10 C140.89,481.87 142.35,478.81 143.40,477.10 C144.45,475.39 145.73,473.88 146.90,472.70 C148.07,471.51 149.89,469.84 151.20,469.20 C152.50,468.56 154.61,468.40 155.60,468.40 Z"/></clipPath>
<path d="M155.60,468.40 C156.59,468.40 157.41,468.68 157.80,469.20 C158.19,469.72 158.39,470.71 158.20,471.90 C158.00,473.08 156.95,475.41 156.50,477.10 C156.05,478.80 155.39,481.37 155.20,483.20 C155.00,485.03 155.08,487.20 155.20,489.30 C155.32,491.40 155.69,494.83 156.00,497.20 C156.31,499.57 156.97,502.73 157.30,505.10 C157.63,507.47 158.12,510.90 158.20,513.00 C158.27,515.10 158.33,517.80 157.80,519.10 C157.28,520.40 155.94,521.31 154.70,521.70 C153.45,522.09 151.07,522.09 149.50,521.70 C147.93,521.31 145.64,520.15 144.20,519.10 C142.76,518.05 140.95,516.41 139.90,514.70 C138.85,512.99 137.80,510.06 137.20,507.70 C136.60,505.34 135.96,501.36 135.90,499.00 C135.84,496.64 136.20,494.24 136.80,492.00 C137.40,489.76 138.91,486.34 139.90,484.10 C140.89,481.87 142.35,478.81 143.40,477.10 C144.45,475.39 145.73,473.88 146.90,472.70 C148.07,471.51 149.89,469.84 151.20,469.20 C152.50,468.56 154.61,468.40 155.60,468.40 Z" fill="#060606"/>
<g clip-path="url(#cE3)">
<ellipse cx="148" cy="508" rx="1.8" ry="2.5" transform="rotate(0 148 508)" fill="#555" opacity="0.6" filter="url(#blur1)"/>
<circle cx="149" cy="477" r="0.45" fill="#cfcfcf" opacity="0.6"/>
<circle cx="148.5" cy="483" r="0.4" fill="#cfcfcf" opacity="0.5"/>
<circle cx="147.5" cy="489" r="0.45" fill="#cfcfcf" opacity="0.5"/>
<circle cx="147.5" cy="495" r="0.5" fill="#cfcfcf" opacity="0.6"/>
<circle cx="147" cy="500" r="0.45" fill="#cfcfcf" opacity="0.5"/>
<circle cx="147.8" cy="510" r="0.5" fill="#cfcfcf" opacity="0.6"/>
</g>
<clipPath id="cE4"><path d="M191.40,469.80 C192.62,469.94 194.15,470.40 194.40,471.10 C194.66,471.81 193.86,473.36 193.10,474.50 C192.34,475.64 190.26,477.19 189.30,478.70 C188.34,480.21 187.15,482.70 186.70,484.60 C186.25,486.50 186.17,489.24 186.30,491.40 C186.44,493.56 187.03,496.72 187.60,499.00 C188.17,501.28 189.47,504.44 190.10,506.60 C190.73,508.76 191.55,511.50 191.80,513.40 C192.06,515.30 192.12,517.96 191.80,519.30 C191.49,520.63 190.78,521.85 189.70,522.30 C188.62,522.75 186.25,522.61 184.60,522.30 C182.95,521.99 180.35,521.28 178.70,520.20 C177.05,519.12 174.80,516.88 173.60,515.10 C172.40,513.32 171.33,510.58 170.70,508.30 C170.07,506.02 169.53,502.31 169.40,499.90 C169.27,497.48 169.35,494.50 169.80,492.20 C170.25,489.90 171.44,486.75 172.40,484.60 C173.36,482.46 174.88,479.67 176.20,477.90 C177.52,476.13 179.68,473.95 181.20,472.80 C182.72,471.65 184.77,470.65 186.30,470.20 C187.83,469.75 190.19,469.67 191.40,469.80 Z"/></clipPath>
<path d="M191.40,469.80 C192.62,469.94 194.15,470.40 194.40,471.10 C194.66,471.81 193.86,473.36 193.10,474.50 C192.34,475.64 190.26,477.19 189.30,478.70 C188.34,480.21 187.15,482.70 186.70,484.60 C186.25,486.50 186.17,489.24 186.30,491.40 C186.44,493.56 187.03,496.72 187.60,499.00 C188.17,501.28 189.47,504.44 190.10,506.60 C190.73,508.76 191.55,511.50 191.80,513.40 C192.06,515.30 192.12,517.96 191.80,519.30 C191.49,520.63 190.78,521.85 189.70,522.30 C188.62,522.75 186.25,522.61 184.60,522.30 C182.95,521.99 180.35,521.28 178.70,520.20 C177.05,519.12 174.80,516.88 173.60,515.10 C172.40,513.32 171.33,510.58 170.70,508.30 C170.07,506.02 169.53,502.31 169.40,499.90 C169.27,497.48 169.35,494.50 169.80,492.20 C170.25,489.90 171.44,486.75 172.40,484.60 C173.36,482.46 174.88,479.67 176.20,477.90 C177.52,476.13 179.68,473.95 181.20,472.80 C182.72,471.65 184.77,470.65 186.30,470.20 C187.83,469.75 190.19,469.67 191.40,469.80 Z" fill="#060606"/>
<g clip-path="url(#cE4)">
<circle cx="185" cy="475" r="0.45" fill="#cfcfcf" opacity="0.5"/>
<circle cx="181" cy="479" r="0.45" fill="#cfcfcf" opacity="0.5"/>
<circle cx="181" cy="486" r="0.4" fill="#cfcfcf" opacity="0.5"/>
<circle cx="180" cy="492" r="0.45" fill="#cfcfcf" opacity="0.5"/>
<circle cx="179" cy="498" r="0.45" fill="#cfcfcf" opacity="0.6"/>
<circle cx="181" cy="511" r="0.45" fill="#cfcfcf" opacity="0.5"/>
<circle cx="184" cy="515" r="0.45" fill="#cfcfcf" opacity="0.5"/>
</g>
<text x="88.25" y="448.30" font-family="&quot;Liberation Serif&quot;, serif" font-size="9.90" font-weight="bold" stroke="#111" stroke-width="0.25" text-anchor="start" fill="#111" textLength="14.25" lengthAdjust="spacingAndGlyphs">CV</text>
<line x1="68.25" y1="453.75" x2="120.75" y2="453.75" stroke="#222" stroke-width="1.6" stroke-linecap="butt"/>
<text x="140.00" y="453.25" font-family="&quot;Liberation Serif&quot;, serif" font-size="10.20" font-weight="bold" stroke="#111" stroke-width="0.25" text-anchor="start" fill="#111" textLength="52.00" lengthAdjust="spacingAndGlyphs">Selumetinib</text>
<line x1="140.00" y1="458.75" x2="192.50" y2="458.75" stroke="#222" stroke-width="1.6" stroke-linecap="butt"/>
<text x="80.60" y="423.80" font-family="&quot;Liberation Serif&quot;, serif" font-size="11.40" font-weight="bold" stroke="#111" stroke-width="0.25" text-anchor="start" fill="#111" textLength="79.80" lengthAdjust="spacingAndGlyphs">L920 (RAS WT)</text>
<text x="1.20" y="419.30" font-family="&quot;Liberation Sans&quot;, sans-serif" font-size="12.50" font-weight="bold" stroke="#000" stroke-width="0.25" text-anchor="start" fill="#000">E</text>
<rect x="297.80" y="429.70" width="168.40" height="109.30" fill="#ffffff" stroke="#3a3a3a" stroke-width="1.4"/>
<line x1="313.44" y1="433.85" x2="319.80" y2="433.85" stroke="#333" stroke-width="0.7" stroke-linecap="butt"/>
<line x1="313.44" y1="436.30" x2="319.80" y2="436.30" stroke="#333" stroke-width="0.7" stroke-linecap="butt"/>
<line x1="313.44" y1="438.75" x2="319.80" y2="438.75" stroke="#333" stroke-width="0.7" stroke-linecap="butt"/>
<line x1="313.44" y1="441.20" x2="319.80" y2="441.20" stroke="#333" stroke-width="0.7" stroke-linecap="butt"/>
<line x1="310.26" y1="443.65" x2="319.80" y2="443.65" stroke="#333" stroke-width="0.8" stroke-linecap="butt"/>
<line x1="313.44" y1="446.10" x2="319.80" y2="446.10" stroke="#333" stroke-width="0.7" stroke-linecap="butt"/>
<line x1="313.44" y1="448.55" x2="319.80" y2="448.55" stroke="#333" stroke-width="0.7" stroke-linecap="butt"/>
<line x1="313.44" y1="451.00" x2="319.80" y2="451.00" stroke="#333" stroke-width="0.7" stroke-linecap="butt"/>
<line x1="313.44" y1="453.45" x2="319.80" y2="453.45" stroke="#333" stroke-width="0.7" stroke-linecap="butt"/>
<line x1="303.90" y1="455.90" x2="319.80" y2="455.90" stroke="#333" stroke-width="0.9" stroke-linecap="butt"/>
<line x1="313.44" y1="458.35" x2="319.80" y2="458.35" stroke="#333" stroke-width="0.7" stroke-linecap="butt"/>
<line x1="313.44" y1="460.80" x2="319.80" y2="460.80" stroke="#333" stroke-width="0.7" stroke-linecap="butt"/>
<line x1="313.44" y1="463.25" x2="319.80" y2="463.25" stroke="#333" stroke-width="0.7" stroke-linecap="butt"/>
<line x1="313.44" y1="465.70" x2="319.80" y2="465.70" stroke="#333" stroke-width="0.7" stroke-linecap="butt"/>
<line x1="310.26" y1="468.15" x2="319.80" y2="468.15" stroke="#333" stroke-width="0.8" stroke-linecap="butt"/>
<line x1="313.44" y1="470.60" x2="319.80" y2="470.60" stroke="#333" stroke-width="0.7" stroke-linecap="butt"/>
<line x1="313.44" y1="473.05" x2="319.80" y2="473.05" stroke="#333" stroke-width="0.7" stroke-linecap="butt"/>
<line x1="313.44" y1="475.50" x2="319.80" y2="475.50" stroke="#333" stroke-width="0.7" stroke-linecap="butt"/>
<line x1="313.44" y1="477.95" x2="319.80" y2="477.95" stroke="#333" stroke-width="0.7" stroke-linecap="butt"/>
<line x1="303.90" y1="480.40" x2="319.80" y2="480.40" stroke="#333" stroke-width="0.9" stroke-linecap="butt"/>
<line x1="313.44" y1="482.85" x2="319.80" y2="482.85" stroke="#333" stroke-width="0.7" stroke-linecap="butt"/>
<line x1="313.44" y1="485.30" x2="319.80" y2="485.30" stroke="#333" stroke-width="0.7" stroke-linecap="butt"/>
<line x1="313.44" y1="487.75" x2="319.80" y2="487.75" stroke="#333" stroke-width="0.7" stroke-linecap="butt"/>
<line x1="313.44" y1="490.20" x2="319.80" y2="490.20" stroke="#333" stroke-width="0.7" stroke-linecap="butt"/>
<line x1="310.26" y1="492.65" x2="319.80" y2="492.65" stroke="#333" stroke-width="0.8" stroke-linecap="butt"/>
<line x1="313.44" y1="495.10" x2="319.80" y2="495.10" stroke="#333" stroke-width="0.7" stroke-linecap="butt"/>
<line x1="313.44" y1="497.55" x2="319.80" y2="497.55" stroke="#333" stroke-width="0.7" stroke-linecap="butt"/>
<line x1="313.44" y1="500.00" x2="319.80" y2="500.00" stroke="#333" stroke-width="0.7" stroke-linecap="butt"/>
<line x1="313.44" y1="502.45" x2="319.80" y2="502.45" stroke="#333" stroke-width="0.7" stroke-linecap="butt"/>
<line x1="303.90" y1="504.90" x2="319.80" y2="504.90" stroke="#333" stroke-width="0.9" stroke-linecap="butt"/>
<line x1="313.44" y1="507.35" x2="319.80" y2="507.35" stroke="#333" stroke-width="0.7" stroke-linecap="butt"/>
<line x1="313.44" y1="509.80" x2="319.80" y2="509.80" stroke="#333" stroke-width="0.7" stroke-linecap="butt"/>
<line x1="313.44" y1="512.25" x2="319.80" y2="512.25" stroke="#333" stroke-width="0.7" stroke-linecap="butt"/>
<line x1="313.44" y1="514.70" x2="319.80" y2="514.70" stroke="#333" stroke-width="0.7" stroke-linecap="butt"/>
<line x1="310.26" y1="517.15" x2="319.80" y2="517.15" stroke="#333" stroke-width="0.8" stroke-linecap="butt"/>
<line x1="313.44" y1="519.60" x2="319.80" y2="519.60" stroke="#333" stroke-width="0.7" stroke-linecap="butt"/>
<line x1="313.44" y1="522.05" x2="319.80" y2="522.05" stroke="#333" stroke-width="0.7" stroke-linecap="butt"/>
<line x1="313.44" y1="524.50" x2="319.80" y2="524.50" stroke="#333" stroke-width="0.7" stroke-linecap="butt"/>
<line x1="313.44" y1="526.95" x2="319.80" y2="526.95" stroke="#333" stroke-width="0.7" stroke-linecap="butt"/>
<line x1="303.90" y1="529.40" x2="319.80" y2="529.40" stroke="#333" stroke-width="0.9" stroke-linecap="butt"/>
<line x1="313.44" y1="531.85" x2="319.80" y2="531.85" stroke="#333" stroke-width="0.7" stroke-linecap="butt"/>
<line x1="313.44" y1="534.30" x2="319.80" y2="534.30" stroke="#333" stroke-width="0.7" stroke-linecap="butt"/>
<line x1="313.44" y1="536.75" x2="319.80" y2="536.75" stroke="#333" stroke-width="0.7" stroke-linecap="butt"/>
<text x="306.20" y="452.90" font-family="&quot;Liberation Serif&quot;, serif" font-size="10.50" font-weight="bold" stroke="#111" stroke-width="0.25" text-anchor="middle" fill="#111" transform="rotate(90 306.20 452.90)" dominant-baseline="central">1</text>
<text x="306.20" y="477.40" font-family="&quot;Liberation Serif&quot;, serif" font-size="10.50" font-weight="bold" stroke="#111" stroke-width="0.25" text-anchor="middle" fill="#111" transform="rotate(90 306.20 477.40)" dominant-baseline="central">2</text>
<text x="306.20" y="501.90" font-family="&quot;Liberation Serif&quot;, serif" font-size="10.50" font-weight="bold" stroke="#111" stroke-width="0.25" text-anchor="middle" fill="#111" transform="rotate(90 306.20 501.90)" dominant-baseline="central">3</text>
<text x="306.20" y="526.40" font-family="&quot;Liberation Serif&quot;, serif" font-size="10.50" font-weight="bold" stroke="#111" stroke-width="0.25" text-anchor="middle" fill="#111" transform="rotate(90 306.20 526.40)" dominant-baseline="central">4</text>
<text x="307.80" y="437.20" font-family="&quot;Liberation Serif&quot;, serif" font-size="8.50" font-weight="bold" stroke="#111" stroke-width="0.25" text-anchor="middle" fill="#111" textLength="9.50" lengthAdjust="spacingAndGlyphs" transform="rotate(90 307.80 437.20)" dominant-baseline="central">CM</text>
<path d="M353.80,453.20 C355.37,453.03 356.65,454.38 357.25,455.00 C357.85,455.62 357.88,456.26 357.80,457.30 C357.72,458.34 357.30,459.83 356.70,461.90 C356.10,463.97 354.32,467.98 353.80,471.10 C353.28,474.22 353.20,479.22 353.20,482.70 C353.20,486.18 353.28,490.82 353.80,494.30 C354.32,497.78 356.10,502.78 356.70,505.90 C357.30,509.02 357.80,512.69 357.80,515.10 C357.80,517.51 357.57,520.44 356.70,522.00 C355.83,523.56 353.65,524.88 352.00,525.50 C350.35,526.12 347.69,526.45 345.70,526.10 C343.70,525.75 340.35,524.51 338.70,523.20 C337.05,521.89 335.64,519.65 334.70,517.40 C333.75,515.15 332.83,511.32 332.40,508.20 C331.96,505.08 331.80,500.08 331.80,496.60 C331.80,493.12 332.05,488.12 332.40,485.00 C332.75,481.88 333.41,478.40 334.10,475.80 C334.79,473.20 335.97,469.96 337.00,467.70 C338.03,465.44 339.53,462.44 341.00,460.70 C342.47,458.96 344.88,457.23 346.80,456.10 C348.72,454.98 352.23,453.37 353.80,453.20 Z" transform="translate(-1.5 -1.5)" fill="#c8c8c8" opacity="0.7" filter="url(#blur1)"/>
<clipPath id="cF1"><path d="M353.80,453.20 C355.37,453.03 356.65,454.38 357.25,455.00 C357.85,455.62 357.88,456.26 357.80,457.30 C357.72,458.34 357.30,459.83 356.70,461.90 C356.10,463.97 354.32,467.98 353.80,471.10 C353.28,474.22 353.20,479.22 353.20,482.70 C353.20,486.18 353.28,490.82 353.80,494.30 C354.32,497.78 356.10,502.78 356.70,505.90 C357.30,509.02 357.80,512.69 357.80,515.10 C357.80,517.51 357.57,520.44 356.70,522.00 C355.83,523.56 353.65,524.88 352.00,525.50 C350.35,526.12 347.69,526.45 345.70,526.10 C343.70,525.75 340.35,524.51 338.70,523.20 C337.05,521.89 335.64,519.65 334.70,517.40 C333.75,515.15 332.83,511.32 332.40,508.20 C331.96,505.08 331.80,500.08 331.80,496.60 C331.80,493.12 332.05,488.12 332.40,485.00 C332.75,481.88 333.41,478.40 334.10,475.80 C334.79,473.20 335.97,469.96 337.00,467.70 C338.03,465.44 339.53,462.44 341.00,460.70 C342.47,458.96 344.88,457.23 346.80,456.10 C348.72,454.98 352.23,453.37 353.80,453.20 Z"/></clipPath>
<path d="M353.80,453.20 C355.37,453.03 356.65,454.38 357.25,455.00 C357.85,455.62 357.88,456.26 357.80,457.30 C357.72,458.34 357.30,459.83 356.70,461.90 C356.10,463.97 354.32,467.98 353.80,471.10 C353.28,474.22 353.20,479.22 353.20,482.70 C353.20,486.18 353.28,490.82 353.80,494.30 C354.32,497.78 356.10,502.78 356.70,505.90 C357.30,509.02 357.80,512.69 357.80,515.10 C357.80,517.51 357.57,520.44 356.70,522.00 C355.83,523.56 353.65,524.88 352.00,525.50 C350.35,526.12 347.69,526.45 345.70,526.10 C343.70,525.75 340.35,524.51 338.70,523.20 C337.05,521.89 335.64,519.65 334.70,517.40 C333.75,515.15 332.83,511.32 332.40,508.20 C331.96,505.08 331.80,500.08 331.80,496.60 C331.80,493.12 332.05,488.12 332.40,485.00 C332.75,481.88 333.41,478.40 334.10,475.80 C334.79,473.20 335.97,469.96 337.00,467.70 C338.03,465.44 339.53,462.44 341.00,460.70 C342.47,458.96 344.88,457.23 346.80,456.10 C348.72,454.98 352.23,453.37 353.80,453.20 Z" fill="#0c0c0c"/>
<g clip-path="url(#cF1)">
<ellipse cx="350" cy="468" rx="2.2" ry="7" transform="rotate(8 350 468)" fill="#555" opacity="0.55" filter="url(#blur1)"/>
<ellipse cx="346" cy="495" rx="1.5" ry="8" transform="rotate(0 346 495)" fill="#333" opacity="0.5" filter="url(#blur1)"/>
<circle cx="340" cy="516" r="0.6" fill="#cfcfcf" opacity="0.7"/>
<circle cx="343" cy="518" r="0.5" fill="#cfcfcf" opacity="0.6"/>
<circle cx="341" cy="513" r="0.5" fill="#cfcfcf" opacity="0.5"/>
<circle cx="346" cy="519" r="0.5" fill="#cfcfcf" opacity="0.5"/>
<circle cx="350" cy="520" r="0.5" fill="#cfcfcf" opacity="0.5"/>
<circle cx="344" cy="470" r="0.5" fill="#cfcfcf" opacity="0.5"/>
</g>
<path d="M381.20,455.10 C382.73,454.76 384.77,454.85 385.70,455.60 C386.63,456.35 387.23,458.06 387.40,460.10 C387.56,462.14 386.80,466.15 386.80,469.20 C386.80,472.25 387.05,477.02 387.40,480.40 C387.75,483.77 388.35,488.31 389.10,491.70 C389.85,495.09 391.47,499.61 392.40,503.00 C393.33,506.39 394.79,511.42 395.30,514.30 C395.81,517.18 396.24,520.34 395.80,522.20 C395.37,524.06 393.75,525.86 392.40,526.70 C391.05,527.54 388.66,528.14 386.80,527.80 C384.94,527.45 381.86,525.75 380.00,524.40 C378.14,523.05 375.82,520.82 374.40,518.80 C372.97,516.77 371.52,513.62 370.50,510.90 C369.48,508.19 368.20,503.91 367.60,500.70 C367.00,497.49 366.57,492.88 366.50,489.50 C366.43,486.12 366.68,481.43 367.10,478.20 C367.52,474.97 368.62,470.53 369.30,468.00 C369.98,465.47 370.67,462.81 371.60,461.30 C372.53,459.79 374.06,458.83 375.50,457.90 C376.94,456.97 379.67,455.44 381.20,455.10 Z" transform="translate(-1.5 -1.5)" fill="#c8c8c8" opacity="0.7" filter="url(#blur1)"/>
<clipPath id="cF2"><path d="M381.20,455.10 C382.73,454.76 384.77,454.85 385.70,455.60 C386.63,456.35 387.23,458.06 387.40,460.10 C387.56,462.14 386.80,466.15 386.80,469.20 C386.80,472.25 387.05,477.02 387.40,480.40 C387.75,483.77 388.35,488.31 389.10,491.70 C389.85,495.09 391.47,499.61 392.40,503.00 C393.33,506.39 394.79,511.42 395.30,514.30 C395.81,517.18 396.24,520.34 395.80,522.20 C395.37,524.06 393.75,525.86 392.40,526.70 C391.05,527.54 388.66,528.14 386.80,527.80 C384.94,527.45 381.86,525.75 380.00,524.40 C378.14,523.05 375.82,520.82 374.40,518.80 C372.97,516.77 371.52,513.62 370.50,510.90 C369.48,508.19 368.20,503.91 367.60,500.70 C367.00,497.49 366.57,492.88 366.50,489.50 C366.43,486.12 366.68,481.43 367.10,478.20 C367.52,474.97 368.62,470.53 369.30,468.00 C369.98,465.47 370.67,462.81 371.60,461.30 C372.53,459.79 374.06,458.83 375.50,457.90 C376.94,456.97 379.67,455.44 381.20,455.10 Z"/></clipPath>
<path d="M381.20,455.10 C382.73,454.76 384.77,454.85 385.70,455.60 C386.63,456.35 387.23,458.06 387.40,460.10 C387.56,462.14 386.80,466.15 386.80,469.20 C386.80,472.25 387.05,477.02 387.40,480.40 C387.75,483.77 388.35,488.31 389.10,491.70 C389.85,495.09 391.47,499.61 392.40,503.00 C393.33,506.39 394.79,511.42 395.30,514.30 C395.81,517.18 396.24,520.34 395.80,522.20 C395.37,524.06 393.75,525.86 392.40,526.70 C391.05,527.54 388.66,528.14 386.80,527.80 C384.94,527.45 381.86,525.75 380.00,524.40 C378.14,523.05 375.82,520.82 374.40,518.80 C372.97,516.77 371.52,513.62 370.50,510.90 C369.48,508.19 368.20,503.91 367.60,500.70 C367.00,497.49 366.57,492.88 366.50,489.50 C366.43,486.12 366.68,481.43 367.10,478.20 C367.52,474.97 368.62,470.53 369.30,468.00 C369.98,465.47 370.67,462.81 371.60,461.30 C372.53,459.79 374.06,458.83 375.50,457.90 C376.94,456.97 379.67,455.44 381.20,455.10 Z" fill="#0c0c0c"/>
<g clip-path="url(#cF2)">
<ellipse cx="378" cy="474" rx="1.5" ry="6" transform="rotate(8 378 474)" fill="#444" opacity="0.5" filter="url(#blur1)"/>
<ellipse cx="381" cy="508" rx="3" ry="4.5" transform="rotate(0 381 508)" fill="#4a4a4a" opacity="0.6" filter="url(#blur1)"/>
<circle cx="377" cy="517" r="0.6" fill="#cfcfcf" opacity="0.7"/>
<circle cx="383" cy="519" r="0.5" fill="#cfcfcf" opacity="0.6"/>
<circle cx="386" cy="521" r="0.5" fill="#cfcfcf" opacity="0.6"/>
<circle cx="377" cy="468" r="0.4" fill="#cfcfcf" opacity="0.5"/>
<circle cx="376" cy="478" r="0.4" fill="#cfcfcf" opacity="0.5"/>
<circle cx="382" cy="507" r="0.6" fill="#cfcfcf" opacity="0.6"/>
</g>
<path d="M418.80,466.70 C419.91,466.81 420.42,467.82 420.60,469.20 C420.78,470.58 420.18,473.41 420.00,475.90 C419.82,478.39 419.53,482.85 419.40,485.80 C419.26,488.75 419.10,492.84 419.10,495.60 C419.10,498.36 419.44,501.62 419.40,504.20 C419.35,506.78 419.36,511.04 418.80,512.80 C418.25,514.55 416.90,515.70 415.70,515.90 C414.50,516.10 412.29,515.30 410.80,514.10 C409.31,512.90 407.00,510.12 405.80,507.90 C404.60,505.68 403.34,501.88 402.80,499.30 C402.26,496.72 401.93,493.28 402.20,490.70 C402.47,488.12 403.69,484.50 404.60,482.10 C405.52,479.70 407.01,476.74 408.30,474.70 C409.59,472.66 411.62,469.70 413.20,468.50 C414.77,467.30 417.69,466.59 418.80,466.70 Z" transform="translate(-1.5 -1.8)" fill="#c8c8c8" opacity="0.7" filter="url(#blur1)"/>
<clipPath id="cF3"><path d="M418.80,466.70 C419.91,466.81 420.42,467.82 420.60,469.20 C420.78,470.58 420.18,473.41 420.00,475.90 C419.82,478.39 419.53,482.85 419.40,485.80 C419.26,488.75 419.10,492.84 419.10,495.60 C419.10,498.36 419.44,501.62 419.40,504.20 C419.35,506.78 419.36,511.04 418.80,512.80 C418.25,514.55 416.90,515.70 415.70,515.90 C414.50,516.10 412.29,515.30 410.80,514.10 C409.31,512.90 407.00,510.12 405.80,507.90 C404.60,505.68 403.34,501.88 402.80,499.30 C402.26,496.72 401.93,493.28 402.20,490.70 C402.47,488.12 403.69,484.50 404.60,482.10 C405.52,479.70 407.01,476.74 408.30,474.70 C409.59,472.66 411.62,469.70 413.20,468.50 C414.77,467.30 417.69,466.59 418.80,466.70 Z"/></clipPath>
<path d="M418.80,466.70 C419.91,466.81 420.42,467.82 420.60,469.20 C420.78,470.58 420.18,473.41 420.00,475.90 C419.82,478.39 419.53,482.85 419.40,485.80 C419.26,488.75 419.10,492.84 419.10,495.60 C419.10,498.36 419.44,501.62 419.40,504.20 C419.35,506.78 419.36,511.04 418.80,512.80 C418.25,514.55 416.90,515.70 415.70,515.90 C414.50,516.10 412.29,515.30 410.80,514.10 C409.31,512.90 407.00,510.12 405.80,507.90 C404.60,505.68 403.34,501.88 402.80,499.30 C402.26,496.72 401.93,493.28 402.20,490.70 C402.47,488.12 403.69,484.50 404.60,482.10 C405.52,479.70 407.01,476.74 408.30,474.70 C409.59,472.66 411.62,469.70 413.20,468.50 C414.77,467.30 417.69,466.59 418.80,466.70 Z" fill="#121212"/>
<g clip-path="url(#cF3)">
<ellipse cx="414" cy="472" rx="1.8" ry="4" transform="rotate(20 414 472)" fill="#5a5a5a" opacity="0.6" filter="url(#blur1)"/>
<ellipse cx="414" cy="492" rx="1.5" ry="5" transform="rotate(0 414 492)" fill="#444" opacity="0.6" filter="url(#blur1)"/>
<ellipse cx="411" cy="505" rx="2" ry="3" transform="rotate(0 411 505)" fill="#444" opacity="0.5" filter="url(#blur1)"/>
<circle cx="412" cy="473" r="0.5" fill="#cfcfcf" opacity="0.6"/>
<circle cx="415" cy="476" r="0.5" fill="#cfcfcf" opacity="0.5"/>
<circle cx="413" cy="489" r="0.5" fill="#cfcfcf" opacity="0.6"/>
<circle cx="412" cy="500" r="0.5" fill="#cfcfcf" opacity="0.5"/>
<circle cx="409" cy="507" r="0.5" fill="#cfcfcf" opacity="0.5"/>
<circle cx="414" cy="512" r="0.5" fill="#cfcfcf" opacity="0.5"/>
</g>
<path d="M444.60,467.30 C445.71,467.41 446.82,468.09 447.10,469.20 C447.38,470.31 446.79,472.58 446.50,474.70 C446.21,476.81 445.31,480.72 445.20,483.30 C445.09,485.88 445.25,489.32 445.80,491.90 C446.36,494.48 447.88,497.90 448.90,500.50 C449.92,503.10 452.05,507.16 452.60,509.20 C453.16,511.24 453.34,513.19 452.60,514.10 C451.87,515.01 449.37,515.50 447.70,515.30 C446.03,515.10 443.35,513.91 441.50,512.80 C439.65,511.69 436.96,509.74 435.40,507.90 C433.84,506.06 431.94,502.90 431.10,500.50 C430.26,498.10 429.71,494.66 429.80,491.90 C429.89,489.14 430.86,484.86 431.70,482.10 C432.54,479.34 434.20,475.54 435.40,473.50 C436.60,471.46 438.32,469.43 439.70,468.50 C441.08,467.57 443.49,467.19 444.60,467.30 Z" transform="translate(-1.5 -1.8)" fill="#c8c8c8" opacity="0.7" filter="url(#blur1)"/>
<clipPath id="cF4"><path d="M444.60,467.30 C445.71,467.41 446.82,468.09 447.10,469.20 C447.38,470.31 446.79,472.58 446.50,474.70 C446.21,476.81 445.31,480.72 445.20,483.30 C445.09,485.88 445.25,489.32 445.80,491.90 C446.36,494.48 447.88,497.90 448.90,500.50 C449.92,503.10 452.05,507.16 452.60,509.20 C453.16,511.24 453.34,513.19 452.60,514.10 C451.87,515.01 449.37,515.50 447.70,515.30 C446.03,515.10 443.35,513.91 441.50,512.80 C439.65,511.69 436.96,509.74 435.40,507.90 C433.84,506.06 431.94,502.90 431.10,500.50 C430.26,498.10 429.71,494.66 429.80,491.90 C429.89,489.14 430.86,484.86 431.70,482.10 C432.54,479.34 434.20,475.54 435.40,473.50 C436.60,471.46 438.32,469.43 439.70,468.50 C441.08,467.57 443.49,467.19 444.60,467.30 Z"/></clipPath>
<path d="M444.60,467.30 C445.71,467.41 446.82,468.09 447.10,469.20 C447.38,470.31 446.79,472.58 446.50,474.70 C446.21,476.81 445.31,480.72 445.20,483.30 C445.09,485.88 445.25,489.32 445.80,491.90 C446.36,494.48 447.88,497.90 448.90,500.50 C449.92,503.10 452.05,507.16 452.60,509.20 C453.16,511.24 453.34,513.19 452.60,514.10 C451.87,515.01 449.37,515.50 447.70,515.30 C446.03,515.10 443.35,513.91 441.50,512.80 C439.65,511.69 436.96,509.74 435.40,507.90 C433.84,506.06 431.94,502.90 431.10,500.50 C430.26,498.10 429.71,494.66 429.80,491.90 C429.89,489.14 430.86,484.86 431.70,482.10 C432.54,479.34 434.20,475.54 435.40,473.50 C436.60,471.46 438.32,469.43 439.70,468.50 C441.08,467.57 443.49,467.19 444.60,467.30 Z" fill="#121212"/>
<g clip-path="url(#cF4)">
<ellipse cx="443" cy="497" rx="2" ry="6" transform="rotate(-20 443 497)" fill="#5e5e5e" opacity="0.65" filter="url(#blur1)"/>
<ellipse cx="441" cy="472" rx="1.5" ry="3" transform="rotate(20 441 472)" fill="#555" opacity="0.6" filter="url(#blur1)"/>
<circle cx="439" cy="474" r="0.5" fill="#cfcfcf" opacity="0.6"/>
<circle cx="440" cy="480" r="0.5" fill="#cfcfcf" opacity="0.6"/>
<circle cx="444" cy="508" r="0.5" fill="#cfcfcf" opacity="0.6"/>
<circle cx="441" cy="510" r="0.5" fill="#cfcfcf" opacity="0.5"/>
<circle cx="446" cy="511" r="0.5" fill="#cfcfcf" opacity="0.5"/>
</g>
<text x="355.10" y="438.90" font-family="&quot;Liberation Serif&quot;, serif" font-size="9.60" font-weight="bold" stroke="#111" stroke-width="0.25" text-anchor="start" fill="#111" textLength="13.80" lengthAdjust="spacingAndGlyphs">CV</text>
<line x1="334.30" y1="445.00" x2="387.00" y2="445.00" stroke="#222" stroke-width="1.6" stroke-linecap="butt"/>
<text x="403.80" y="449.50" font-family="&quot;Liberation Serif&quot;, serif" font-size="10.20" font-weight="bold" stroke="#111" stroke-width="0.25" text-anchor="start" fill="#111" textLength="52.00" lengthAdjust="spacingAndGlyphs">Selumetinib</text>
<line x1="401.00" y1="455.00" x2="454.00" y2="455.00" stroke="#222" stroke-width="1.6" stroke-linecap="butt"/>
<text x="332.50" y="422.50" font-family="&quot;Liberation Serif&quot;, serif" font-size="11.70" font-weight="bold" stroke="#111" stroke-width="0.25" text-anchor="start" fill="#111" textLength="98.75" lengthAdjust="spacingAndGlyphs">L779 (RAS mutant)</text>
<text x="263.50" y="419.30" font-family="&quot;Liberation Sans&quot;, sans-serif" font-size="12.50" font-weight="bold" stroke="#000" stroke-width="0.25" text-anchor="start" fill="#000">F</text>
<line x1="36.90" y1="579.79" x2="36.90" y2="695.20" stroke="#111" stroke-width="1.5" stroke-linecap="butt"/>
<line x1="36.20" y1="694.50" x2="209.70" y2="694.50" stroke="#111" stroke-width="1.5" stroke-linecap="butt"/>
<line x1="33.90" y1="694.50" x2="36.90" y2="694.50" stroke="#111" stroke-width="1.2" stroke-linecap="butt"/>
<text x="33.10" y="697.50" font-family="&quot;Liberation Serif&quot;, serif" font-size="9.00" font-weight="bold" stroke="#111" stroke-width="0.25" text-anchor="end" fill="#111">0.0</text>
<line x1="33.90" y1="656.43" x2="36.90" y2="656.43" stroke="#111" stroke-width="1.2" stroke-linecap="butt"/>
<text x="33.10" y="659.43" font-family="&quot;Liberation Serif&quot;, serif" font-size="9.00" font-weight="bold" stroke="#111" stroke-width="0.25" text-anchor="end" fill="#111">0.5</text>
<line x1="33.90" y1="618.36" x2="36.90" y2="618.36" stroke="#111" stroke-width="1.2" stroke-linecap="butt"/>
<text x="33.10" y="621.36" font-family="&quot;Liberation Serif&quot;, serif" font-size="9.00" font-weight="bold" stroke="#111" stroke-width="0.25" text-anchor="end" fill="#111">1.0</text>
<line x1="33.90" y1="580.29" x2="36.90" y2="580.29" stroke="#111" stroke-width="1.2" stroke-linecap="butt"/>
<text x="33.10" y="583.29" font-family="&quot;Liberation Serif&quot;, serif" font-size="9.00" font-weight="bold" stroke="#111" stroke-width="0.25" text-anchor="end" fill="#111">1.5</text>
<line x1="80.20" y1="694.50" x2="80.20" y2="697.30" stroke="#111" stroke-width="1.2" stroke-linecap="butt"/>
<line x1="166.10" y1="694.50" x2="166.10" y2="697.30" stroke="#111" stroke-width="1.2" stroke-linecap="butt"/>
<text x="73.80" y="706.70" font-family="&quot;Liberation Serif&quot;, serif" font-size="9.00" stroke="#111" stroke-width="0.35" text-anchor="start" fill="#111" textLength="12.70" lengthAdjust="spacingAndGlyphs">CV</text>
<text x="127.80" y="706.70" font-family="&quot;Liberation Serif&quot;, serif" font-size="9.00" font-weight="bold" stroke="#111" stroke-width="0.25" text-anchor="start" fill="#111" textLength="76.40" lengthAdjust="spacingAndGlyphs">Selumetinib treated</text>
<text x="14.60" y="637.60" font-family="&quot;Liberation Serif&quot;, serif" font-size="9.50" font-weight="bold" stroke="#111" stroke-width="0.25" text-anchor="middle" fill="#111" textLength="47.20" lengthAdjust="spacingAndGlyphs" transform="rotate(-90 14.60 637.60)">Weight (g).</text>
<text x="75.00" y="565.75" font-family="&quot;Liberation Serif&quot;, serif" font-size="11.03" font-weight="bold" stroke="#111" stroke-width="0.25" text-anchor="start" fill="#111" textLength="96.25" lengthAdjust="spacingAndGlyphs">L920 Spleen weights</text>
<line x1="51.50" y1="653.40" x2="108.80" y2="653.40" stroke="#111" stroke-width="1.5" stroke-linecap="butt"/>
<line x1="66.20" y1="648.80" x2="94.60" y2="648.80" stroke="#111" stroke-width="1.5" stroke-linecap="butt"/>
<line x1="66.20" y1="657.70" x2="94.60" y2="657.70" stroke="#111" stroke-width="1.5" stroke-linecap="butt"/>
<line x1="137.30" y1="661.20" x2="194.80" y2="661.20" stroke="#111" stroke-width="1.5" stroke-linecap="butt"/>
<line x1="80.00" y1="648.80" x2="80.00" y2="657.70" stroke="#111" stroke-width="1.3" stroke-linecap="butt"/>
<circle cx="80.50" cy="633.10" r="2.35" fill="#fff" stroke="#111" stroke-width="1.65"/>
<circle cx="76.90" cy="650.30" r="2.35" fill="#fff" stroke="#111" stroke-width="1.65"/>
<circle cx="83.80" cy="652.00" r="2.35" fill="#fff" stroke="#111" stroke-width="1.65"/>
<circle cx="73.50" cy="659.20" r="2.35" fill="#fff" stroke="#111" stroke-width="1.65"/>
<circle cx="87.20" cy="661.20" r="2.35" fill="#fff" stroke="#111" stroke-width="1.65"/>
<circle cx="80.00" cy="665.00" r="2.35" fill="#fff" stroke="#111" stroke-width="1.65"/>
<rect x="146.80" y="657.10" width="4.6" height="4.6" fill="#fff" stroke="#111" stroke-width="1.6"/>
<rect x="153.70" y="659.70" width="4.6" height="4.6" fill="#fff" stroke="#111" stroke-width="1.6"/>
<rect x="160.10" y="660.60" width="4.6" height="4.6" fill="#fff" stroke="#111" stroke-width="1.6"/>
<rect x="167.40" y="660.60" width="4.6" height="4.6" fill="#fff" stroke="#111" stroke-width="1.6"/>
<rect x="173.90" y="658.50" width="4.6" height="4.6" fill="#fff" stroke="#111" stroke-width="1.6"/>
<rect x="181.40" y="655.70" width="4.6" height="4.6" fill="#fff" stroke="#111" stroke-width="1.6"/>
<text x="1.20" y="565.80" font-family="&quot;Liberation Sans&quot;, sans-serif" font-size="12.50" font-weight="bold" stroke="#000" stroke-width="0.25" text-anchor="start" fill="#000">G</text>
<line x1="299.40" y1="581.40" x2="299.40" y2="696.00" stroke="#111" stroke-width="1.5" stroke-linecap="butt"/>
<line x1="298.70" y1="695.30" x2="471.80" y2="695.30" stroke="#111" stroke-width="1.5" stroke-linecap="butt"/>
<line x1="296.40" y1="695.30" x2="299.40" y2="695.30" stroke="#111" stroke-width="1.2" stroke-linecap="butt"/>
<text x="295.60" y="698.30" font-family="&quot;Liberation Serif&quot;, serif" font-size="9.00" font-weight="bold" stroke="#222" stroke-width="0.05" text-anchor="end" fill="#222">0.0</text>
<line x1="296.40" y1="657.50" x2="299.40" y2="657.50" stroke="#111" stroke-width="1.2" stroke-linecap="butt"/>
<text x="295.60" y="660.50" font-family="&quot;Liberation Serif&quot;, serif" font-size="9.00" font-weight="bold" stroke="#222" stroke-width="0.05" text-anchor="end" fill="#222">0.5</text>
<line x1="296.40" y1="619.70" x2="299.40" y2="619.70" stroke="#111" stroke-width="1.2" stroke-linecap="butt"/>
<text x="295.60" y="622.70" font-family="&quot;Liberation Serif&quot;, serif" font-size="9.00" font-weight="bold" stroke="#222" stroke-width="0.05" text-anchor="end" fill="#222">1.0</text>
<line x1="296.40" y1="581.90" x2="299.40" y2="581.90" stroke="#111" stroke-width="1.2" stroke-linecap="butt"/>
<text x="295.60" y="584.90" font-family="&quot;Liberation Serif&quot;, serif" font-size="9.00" font-weight="bold" stroke="#222" stroke-width="0.05" text-anchor="end" fill="#222">1.5</text>
<line x1="342.50" y1="695.30" x2="342.50" y2="698.10" stroke="#111" stroke-width="1.2" stroke-linecap="butt"/>
<line x1="428.70" y1="695.30" x2="428.70" y2="698.10" stroke="#111" stroke-width="1.2" stroke-linecap="butt"/>
<text x="335.90" y="707.30" font-family="&quot;Liberation Serif&quot;, serif" font-size="9.00" stroke="#222" stroke-width="0.35" text-anchor="start" fill="#222" textLength="12.90" lengthAdjust="spacingAndGlyphs">CV</text>
<text x="392.10" y="707.30" font-family="&quot;Liberation Serif&quot;, serif" font-size="9.00" font-weight="bold" stroke="#222" stroke-width="0.25" text-anchor="start" fill="#222" textLength="72.10" lengthAdjust="spacingAndGlyphs">Selumetinib treated</text>
<text x="278.30" y="638.60" font-family="&quot;Liberation Serif&quot;, serif" font-size="9.80" font-weight="bold" stroke="#222" stroke-width="0.05" text-anchor="middle" fill="#222" textLength="49.00" lengthAdjust="spacingAndGlyphs" transform="rotate(-90 278.30 638.60)">Weight (g).</text>
<text x="337.50" y="567.50" font-family="&quot;Liberation Serif&quot;, serif" font-size="11.03" font-weight="bold" stroke="#111" stroke-width="0.25" text-anchor="start" fill="#111" textLength="96.25" lengthAdjust="spacingAndGlyphs">L779 Spleen weights</text>
<line x1="314.50" y1="624.25" x2="371.75" y2="624.25" stroke="#111" stroke-width="1.5" stroke-linecap="butt"/>
<line x1="328.00" y1="615.50" x2="357.50" y2="615.50" stroke="#111" stroke-width="1.5" stroke-linecap="butt"/>
<line x1="328.00" y1="633.25" x2="357.50" y2="633.25" stroke="#111" stroke-width="1.5" stroke-linecap="butt"/>
<line x1="399.90" y1="668.90" x2="457.00" y2="668.90" stroke="#111" stroke-width="1.5" stroke-linecap="butt"/>
<line x1="413.70" y1="663.70" x2="442.70" y2="663.70" stroke="#111" stroke-width="1.5" stroke-linecap="butt"/>
<line x1="413.70" y1="674.10" x2="442.70" y2="674.10" stroke="#111" stroke-width="1.5" stroke-linecap="butt"/>
<line x1="343.00" y1="615.50" x2="343.00" y2="633.25" stroke="#111" stroke-width="1.3" stroke-linecap="butt"/>
<line x1="428.50" y1="663.70" x2="428.50" y2="674.10" stroke="#111" stroke-width="1.3" stroke-linecap="butt"/>
<circle cx="343.00" cy="596.75" r="2.35" fill="#fff" stroke="#111" stroke-width="1.65"/>
<circle cx="339.50" cy="617.50" r="2.35" fill="#fff" stroke="#111" stroke-width="1.65"/>
<circle cx="346.25" cy="619.50" r="2.35" fill="#fff" stroke="#111" stroke-width="1.65"/>
<circle cx="346.25" cy="642.00" r="2.35" fill="#fff" stroke="#111" stroke-width="1.65"/>
<circle cx="339.50" cy="646.25" r="2.35" fill="#fff" stroke="#111" stroke-width="1.65"/>
<rect x="422.35" y="659.00" width="4.6" height="4.6" fill="#fff" stroke="#111" stroke-width="1.6"/>
<rect x="429.30" y="664.00" width="4.6" height="4.6" fill="#fff" stroke="#111" stroke-width="1.6"/>
<rect x="419.20" y="668.50" width="4.6" height="4.6" fill="#fff" stroke="#111" stroke-width="1.6"/>
<rect x="432.70" y="669.40" width="4.6" height="4.6" fill="#fff" stroke="#111" stroke-width="1.6"/>
<rect x="426.20" y="672.30" width="4.6" height="4.6" fill="#fff" stroke="#111" stroke-width="1.6"/>
<text x="263.50" y="566.30" font-family="&quot;Liberation Sans&quot;, sans-serif" font-size="12.50" font-weight="bold" stroke="#000" stroke-width="0.25" text-anchor="start" fill="#000">H</text></svg></body></html>
